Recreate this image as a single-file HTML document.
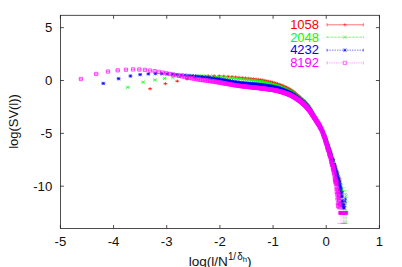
<!DOCTYPE html>
<html><head><meta charset="utf-8"><title>plot</title>
<style>html,body{margin:0;padding:0;background:#fff;overflow:hidden}body{width:402px;height:267px;position:relative;font-family:"Liberation Sans",sans-serif}</style>
</head><body>
<svg width="402" height="267" viewBox="0 0 402 267" style="display:block;position:absolute;left:0;top:0">
<rect width="402" height="267" fill="#fff"/>
<path d="M148.45 88.80H151.75M150.10 87.15V90.45M163.75 83.70H167.05M165.40 82.05V85.35M175.61 81.14H178.91M177.26 79.49V82.79M185.30 78.95H188.60M186.95 77.30V80.60M193.50 77.71H196.80M195.15 76.06V79.36M200.60 76.60H203.90M202.25 74.95V78.25M206.86 76.12H210.16M208.51 74.47V77.77M212.46 75.90H215.76M214.11 74.25V77.55M217.53 75.97H220.83M219.18 74.32V77.62M222.15 76.17H225.45M223.80 74.52V77.82M226.41 76.40H229.71M228.06 74.75V78.05M230.35 76.69H233.65M232.00 75.04V78.34M234.02 77.05H237.32M235.67 75.40V78.70M237.45 77.41H240.75M239.10 75.76V79.06M240.67 77.73H243.97M242.32 76.08V79.38M243.71 78.02H247.01M245.36 76.37V79.67M246.59 78.30H249.89M248.24 76.65V79.95M249.31 78.58H252.61M250.96 76.93V80.23M251.91 78.86H255.21M253.56 77.21V80.51M254.38 79.16H257.68M256.03 77.51V80.81M256.74 79.47H260.04M258.39 77.82V81.12M259.01 79.80H262.31M260.66 78.15V81.45M261.18 80.16H264.48M262.83 78.51V81.81M263.26 80.55H266.56M264.91 78.90V82.20M265.27 80.96H268.57M266.92 79.31V82.61M267.20 81.39H270.50M268.85 79.74V83.04M269.07 81.85H272.37M270.72 80.20V83.50M270.87 82.31H274.17M272.52 80.66V83.96M272.61 82.79H275.91M274.26 81.14V84.44M274.30 83.28H277.60M275.95 81.63V84.93M275.94 83.80H279.24M277.59 82.15V85.45M277.53 84.35H280.83M279.18 82.70V86.00M279.07 84.92H282.37M280.72 83.27V86.57M280.56 85.52H283.86M282.21 83.87V87.17M282.02 86.14H285.32M283.67 84.49V87.79M283.44 86.78H286.74M285.09 85.13V88.43M284.82 87.44H288.12M286.47 85.79V89.09M286.17 88.12H289.47M287.82 86.47V89.77M287.48 88.82H290.78M289.13 87.17V90.47M288.76 89.54H292.06M290.41 87.89V91.19M290.01 90.34H293.31M291.66 88.69V91.99M291.23 91.22H294.53M292.88 89.57V92.87M292.43 92.16H295.73M294.08 90.51V93.81M293.60 93.13H296.90M295.25 91.48V94.78M294.74 94.12H298.04M296.39 92.47V95.77M295.86 95.12H299.16M297.51 93.47V96.77M296.96 96.11H300.26M298.61 94.46V97.76M298.03 97.07H301.33M299.68 95.42V98.72M299.08 98.00H302.38M300.73 96.35V99.65M300.11 98.89H303.41M301.76 97.24V100.54M301.13 99.76H304.43M302.78 98.11V101.41M302.12 100.63H305.42M303.77 98.98V102.28M303.10 101.53H306.40M304.75 99.88V103.18M304.05 102.48H307.35M305.70 100.83V104.13M305.00 103.49H308.30M306.65 101.84V105.14M305.92 104.59H309.22M307.57 102.94V106.24M306.83 105.84H310.13M308.48 104.19V107.49M307.72 107.25H311.02M309.37 105.60V108.90M308.60 108.78H311.90M310.25 107.13V110.43M309.47 110.38H312.77M311.12 108.73V112.03M310.32 112.03H313.62M311.97 110.38V113.68M311.15 113.69H314.45M312.80 112.04V115.34M311.98 115.32H315.28M313.63 113.67V116.97M312.79 116.91H316.09M314.44 115.26V118.56M313.59 118.42H316.89M315.24 116.77V120.07M314.38 119.83H317.68M316.03 118.18V121.48M315.15 121.13H318.45M316.80 119.48V122.78M315.92 122.34H319.22M317.57 120.69V123.99M316.67 123.50H319.97M318.32 121.85V125.15M317.42 124.63H320.72M319.07 122.98V126.28" fill="none" stroke="#ff0000" stroke-width="0.65"/>
<path d="M318.15 125.03H321.45M319.80 123.38V126.68M318.87 126.43H322.17M320.52 124.78V128.08M319.59 128.25H322.89M321.24 126.60V129.90M320.29 129.82H323.59M321.94 128.17V131.47M320.99 130.47H324.29M322.64 128.82V132.12M321.67 132.57H324.97M323.32 130.92V134.22M322.35 135.07H325.65M324.00 133.42V136.72M323.02 136.51H326.32M324.67 134.86V138.16M323.68 137.87H326.98M325.33 136.22V139.52M324.33 139.17H327.63M325.98 137.52V140.82M324.98 141.06H328.28M326.63 139.41V142.71M325.61 144.28H328.91M327.26 142.63V145.93M326.24 145.06H329.54M327.89 143.41V146.71M326.86 147.00H330.16M328.51 145.35V148.65M327.48 148.63H330.78M329.13 146.98V150.28M328.09 150.18H331.39M329.74 148.53V151.83M328.69 152.81H331.99M330.34 151.16V154.46M329.28 155.62H332.58M330.93 153.97V157.27M329.87 157.72H333.17M331.52 156.07V159.37M330.45 158.31H333.75M332.10 156.66V159.96M331.02 160.24H334.32M332.67 158.59V161.89M331.59 160.72H334.89M333.24 159.07V162.37M332.15 164.57H335.45M333.80 162.92V166.22M332.71 166.03H336.01M334.36 164.38V167.68M333.26 166.55H336.56M334.91 164.90V168.20M333.81 167.54H337.11M335.46 165.89V169.19M334.35 170.78H337.65M336.00 169.13V172.43M334.88 171.90H338.18M336.53 170.25V173.55M335.41 172.93H338.71M337.06 171.28V174.58M335.93 174.45H339.23M337.58 172.80V176.10M336.45 178.32H339.75M338.10 176.67V179.97M336.97 179.22H340.27M338.62 177.57V180.87M337.48 184.42H340.78M339.13 182.77V186.07M337.98 181.50H341.28M339.63 179.85V183.15M338.48 180.77H341.78M340.13 179.12V182.42M338.97 188.74H342.27M340.62 187.09V190.39M339.46 191.22H342.76M341.11 189.57V192.87M339.95 191.59H343.25M341.60 189.94V193.24M340.43 196.02H343.73M342.08 194.37V197.67M340.91 196.31H344.21M342.56 194.66V197.96M341.38 191.46H344.68M343.03 189.81V193.11M342.10 212.90H344.90M343.50 211.50V214.30M342.31 208.11H345.61M343.96 206.46V209.76M342.77 206.85H346.07M344.42 205.20V208.50M343.48 212.90H346.28M344.88 211.50V214.30" fill="none" stroke="#ff0000" stroke-width="0.5" stroke-opacity="0.8"/>
<path d="M150.10 88.45V89.15M148.10 88.45H152.10M148.10 89.15H152.10M165.40 83.35V84.05M163.40 83.35H167.40M163.40 84.05H167.40M177.26 80.79V81.49M175.26 80.79H179.26M175.26 81.49H179.26M186.95 78.60V79.30M184.95 78.60H188.95M184.95 79.30H188.95M195.15 77.36V78.06M193.15 77.36H197.15M193.15 78.06H197.15M202.25 76.25V76.95M200.25 76.25H204.25M200.25 76.95H204.25M208.51 75.77V76.47M206.51 75.77H210.51M206.51 76.47H210.51M214.11 75.55V76.25M212.11 75.55H216.11M212.11 76.25H216.11M219.18 75.62V76.32M217.18 75.62H221.18M217.18 76.32H221.18M223.80 75.82V76.52M221.80 75.82H225.80M221.80 76.52H225.80M228.06 76.05V76.75M226.06 76.05H230.06M226.06 76.75H230.06M232.00 76.34V77.04M230.00 76.34H234.00M230.00 77.04H234.00M235.67 76.70V77.40M233.67 76.70H237.67M233.67 77.40H237.67M239.10 77.06V77.76M237.10 77.06H241.10M237.10 77.76H241.10M242.32 77.38V78.08M240.32 77.38H244.32M240.32 78.08H244.32M245.36 77.67V78.37M243.36 77.67H247.36M243.36 78.37H247.36M248.24 77.95V78.65M246.24 77.95H250.24M246.24 78.65H250.24M250.96 78.23V78.93M248.96 78.23H252.96M248.96 78.93H252.96M253.56 78.51V79.21M251.56 78.51H255.56M251.56 79.21H255.56M256.03 78.81V79.51M254.03 78.81H258.03M254.03 79.51H258.03M258.39 79.12V79.82M256.39 79.12H260.39M256.39 79.82H260.39M260.66 79.45V80.15M258.66 79.45H262.66M258.66 80.15H262.66M262.83 79.81V80.51M260.83 79.81H264.83M260.83 80.51H264.83M264.91 80.20V80.90M262.91 80.20H266.91M262.91 80.90H266.91M266.92 80.61V81.31M264.92 80.61H268.92M264.92 81.31H268.92M268.85 81.04V81.74M266.85 81.04H270.85M266.85 81.74H270.85M270.72 81.50V82.20M268.72 81.50H272.72M268.72 82.20H272.72M272.52 81.96V82.66M270.52 81.96H274.52M270.52 82.66H274.52M274.26 82.44V83.14M272.26 82.44H276.26M272.26 83.14H276.26M275.95 82.93V83.63M273.95 82.93H277.95M273.95 83.63H277.95M277.59 83.45V84.15M275.59 83.45H279.59M275.59 84.15H279.59M279.18 84.00V84.70M277.18 84.00H281.18M277.18 84.70H281.18M280.72 84.57V85.27M278.72 84.57H282.72M278.72 85.27H282.72M282.21 85.17V85.87M280.21 85.17H284.21M280.21 85.87H284.21M283.67 85.79V86.49M281.67 85.79H285.67M281.67 86.49H285.67M285.09 86.43V87.13M283.09 86.43H287.09M283.09 87.13H287.09M286.47 87.09V87.79M284.47 87.09H288.47M284.47 87.79H288.47M287.82 87.77V88.47M285.82 87.77H289.82M285.82 88.47H289.82M289.13 88.47V89.17M287.13 88.47H291.13M287.13 89.17H291.13M290.41 89.19V89.89M288.41 89.19H292.41M288.41 89.89H292.41M291.66 89.99V90.69M289.66 89.99H293.66M289.66 90.69H293.66M292.88 90.87V91.57M290.88 90.87H294.88M290.88 91.57H294.88M294.08 91.81V92.51M292.08 91.81H296.08M292.08 92.51H296.08M295.25 92.78V93.48M293.25 92.78H297.25M293.25 93.48H297.25M296.39 93.77V94.47M294.39 93.77H298.39M294.39 94.47H298.39M297.51 94.77V95.47M295.51 94.77H299.51M295.51 95.47H299.51M298.61 95.76V96.46M296.61 95.76H300.61M296.61 96.46H300.61M299.68 96.72V97.42M297.68 96.72H301.68M297.68 97.42H301.68M300.73 97.65V98.35M298.73 97.65H302.73M298.73 98.35H302.73M301.76 98.54V99.24M299.76 98.54H303.76M299.76 99.24H303.76M302.78 99.41V100.11M300.78 99.41H304.78M300.78 100.11H304.78M303.77 100.28V100.98M301.77 100.28H305.77M301.77 100.98H305.77M304.75 101.18V101.88M302.75 101.18H306.75M302.75 101.88H306.75M305.70 102.13V102.83M303.70 102.13H307.70M303.70 102.83H307.70M306.65 103.14V103.84M304.65 103.14H308.65M304.65 103.84H308.65M307.57 104.24V104.94M305.57 104.24H309.57M305.57 104.94H309.57M308.48 105.49V106.19M306.48 105.49H310.48M306.48 106.19H310.48M309.37 106.90V107.60M307.37 106.90H311.37M307.37 107.60H311.37M310.25 108.43V109.13M308.25 108.43H312.25M308.25 109.13H312.25M311.12 110.03V110.73M309.12 110.03H313.12M309.12 110.73H313.12M311.97 111.68V112.38M309.97 111.68H313.97M309.97 112.38H313.97M312.80 113.34V114.04M310.80 113.34H314.80M310.80 114.04H314.80M313.63 114.97V115.67M311.63 114.97H315.63M311.63 115.67H315.63M314.44 116.56V117.26M312.44 116.56H316.44M312.44 117.26H316.44M315.24 118.07V118.77M313.24 118.07H317.24M313.24 118.77H317.24M316.03 119.48V120.18M314.03 119.48H318.03M314.03 120.18H318.03M316.80 120.78V121.48M314.80 120.78H318.80M314.80 121.48H318.80M317.57 121.99V122.69M315.57 121.99H319.57M315.57 122.69H319.57M318.32 123.15V123.85M316.32 123.15H320.32M316.32 123.85H320.32M319.07 124.28V124.98M317.07 124.28H321.07M317.07 124.98H321.07" fill="none" stroke="#ff0000" stroke-width="0.4" stroke-opacity="0.8"/>
<path d="M324.00 134.81V135.33M321.80 134.81H326.20M321.80 135.33H326.20M324.67 136.23V136.79M322.47 136.23H326.87M322.47 136.79H326.87M325.33 137.55V138.18M323.13 137.55H327.53M323.13 138.18H327.53M325.98 138.85V139.50M323.78 138.85H328.18M323.78 139.50H328.18M326.63 140.71V141.41M324.43 140.71H328.83M324.43 141.41H328.83M327.26 143.88V144.68M325.06 143.88H329.46M325.06 144.68H329.46M327.89 144.62V145.50M325.69 144.62H330.09M325.69 145.50H330.09M328.51 146.53V147.48M326.31 146.53H330.71M326.31 147.48H330.71M329.13 148.10V149.15M326.93 148.10H331.33M326.93 149.15H331.33M329.74 149.63V150.74M327.54 149.63H331.94M327.54 150.74H331.94M330.34 152.19V153.42M328.14 152.19H332.54M328.14 153.42H332.54M330.93 154.93V156.31M328.73 154.93H333.13M328.73 156.31H333.13M331.52 156.95V158.48M329.32 156.95H333.72M329.32 158.48H333.72M332.10 157.51V159.11M329.90 157.51H334.30M329.90 159.11H334.30M332.67 159.39V161.08M330.47 159.39H334.87M330.47 161.08H334.87M333.24 159.79V161.64M331.04 159.79H335.44M331.04 161.64H335.44M333.80 163.49V165.66M331.60 163.49H336.00M331.60 165.66H336.00M334.36 164.86V167.19M332.16 164.86H336.56M332.16 167.19H336.56M334.91 165.41V167.69M332.71 165.41H337.11M332.71 167.69H337.11M335.46 166.29V168.80M333.26 166.29H337.66M333.26 168.80H337.66M336.00 169.33V172.23M333.80 169.33H338.20M333.80 172.23H338.20M336.53 170.45V173.35M334.33 170.45H338.73M334.33 173.35H338.73M337.06 171.32V174.55M334.86 171.32H339.26M334.86 174.55H339.26M337.58 172.76V176.15M335.38 172.76H339.78M335.38 176.15H339.78M338.10 176.36V180.29M335.90 176.36H340.30M335.90 180.29H340.30M338.62 177.11V181.34M336.42 177.11H340.82M336.42 181.34H340.82M339.63 179.19V183.80M337.43 179.19H341.83M337.43 183.80H341.83M340.13 178.28V183.26M337.93 178.28H342.33M337.93 183.26H342.33" fill="none" stroke="#ff0000" stroke-width="0.35" stroke-opacity="0.75"/>
<path d="M126.15 85.65L129.45 88.95M126.15 88.95L129.45 85.65M141.45 80.55L144.75 83.85M141.45 83.85L144.75 80.55M153.31 78.26L156.61 81.56M153.31 81.56L156.61 78.26M163.00 76.76L166.30 80.06M163.00 80.06L166.30 76.76M171.20 75.76L174.50 79.06M171.20 79.06L174.50 75.76M178.30 74.85L181.60 78.15M178.30 78.15L181.60 74.85M184.56 74.36L187.86 77.66M184.56 77.66L187.86 74.36M190.16 74.15L193.46 77.45M190.16 77.45L193.46 74.15M195.23 74.17L198.53 77.47M195.23 77.47L198.53 74.17M199.85 74.21L203.15 77.51M199.85 77.51L203.15 74.21M204.11 74.26L207.41 77.56M204.11 77.56L207.41 74.26M208.05 74.45L211.35 77.75M208.05 77.75L211.35 74.45M211.72 74.75L215.02 78.05M211.72 78.05L215.02 74.75M215.15 75.07L218.45 78.37M215.15 78.37L218.45 75.07M218.37 75.35L221.67 78.65M218.37 78.65L221.67 75.35M221.41 75.61L224.71 78.91M221.41 78.91L224.71 75.61M224.29 75.87L227.59 79.17M224.29 79.17L227.59 75.87M227.01 76.12L230.31 79.42M227.01 79.42L230.31 76.12M229.61 76.37L232.91 79.67M229.61 79.67L232.91 76.37M232.08 76.61L235.38 79.91M232.08 79.91L235.38 76.61M234.44 76.85L237.74 80.15M234.44 80.15L237.74 76.85M236.71 77.08L240.01 80.38M236.71 80.38L240.01 77.08M238.88 77.30L242.18 80.60M238.88 80.60L242.18 77.30M240.96 77.52L244.26 80.82M240.96 80.82L244.26 77.52M242.97 77.72L246.27 81.02M242.97 81.02L246.27 77.72M244.90 77.91L248.20 81.21M244.90 81.21L248.20 77.91M246.77 78.10L250.07 81.40M246.77 81.40L250.07 78.10M248.57 78.29L251.87 81.59M248.57 81.59L251.87 78.29M250.31 78.48L253.61 81.78M250.31 81.78L253.61 78.48M252.00 78.68L255.30 81.98M252.00 81.98L255.30 78.68M253.64 78.88L256.94 82.18M253.64 82.18L256.94 78.88M255.23 79.09L258.53 82.39M255.23 82.39L258.53 79.09M256.77 79.31L260.07 82.61M256.77 82.61L260.07 79.31M258.26 79.54L261.56 82.84M258.26 82.84L261.56 79.54M259.72 79.78L263.02 83.08M259.72 83.08L263.02 79.78M261.14 80.04L264.44 83.34M261.14 83.34L264.44 80.04M262.52 80.32L265.82 83.62M262.52 83.62L265.82 80.32M263.87 80.61L267.17 83.91M263.87 83.91L267.17 80.61M265.18 80.92L268.48 84.22M265.18 84.22L268.48 80.92M266.46 81.23L269.76 84.53M266.46 84.53L269.76 81.23M267.71 81.55L271.01 84.85M267.71 84.85L271.01 81.55M268.93 81.87L272.23 85.17M268.93 85.17L272.23 81.87M270.13 82.21L273.43 85.51M270.13 85.51L273.43 82.21M271.30 82.54L274.60 85.84M271.30 85.84L274.60 82.54M272.44 82.88L275.74 86.18M272.44 86.18L275.74 82.88M273.56 83.21L276.86 86.51M273.56 86.51L276.86 83.21M274.66 83.56L277.96 86.86M274.66 86.86L277.96 83.56M275.73 83.91L279.03 87.21M275.73 87.21L279.03 83.91M276.78 84.26L280.08 87.56M276.78 87.56L280.08 84.26M277.81 84.63L281.11 87.93M277.81 87.93L281.11 84.63M278.83 85.00L282.13 88.30M278.83 88.30L282.13 85.00M279.82 85.38L283.12 88.68M279.82 88.68L283.12 85.38M280.80 85.77L284.10 89.07M280.80 89.07L284.10 85.77M281.75 86.17L285.05 89.47M281.75 89.47L285.05 86.17M282.70 86.57L286.00 89.87M282.70 89.87L286.00 86.57M283.62 86.99L286.92 90.29M283.62 90.29L286.92 86.99M284.53 87.41L287.83 90.71M284.53 90.71L287.83 87.41M285.42 87.84L288.72 91.14M285.42 91.14L288.72 87.84M286.30 88.27L289.60 91.57M286.30 91.57L289.60 88.27M287.17 88.72L290.47 92.02M287.17 92.02L290.47 88.72M288.02 89.17L291.32 92.47M288.02 92.47L291.32 89.17M288.85 89.63L292.15 92.93M288.85 92.93L292.15 89.63M289.68 90.14L292.98 93.44M289.68 93.44L292.98 90.14M290.49 90.67L293.79 93.97M290.49 93.97L293.79 90.67M291.29 91.23L294.59 94.53M291.29 94.53L294.59 91.23M292.08 91.81L295.38 95.11M292.08 95.11L295.38 91.81M292.85 92.40L296.15 95.70M292.85 95.70L296.15 92.40M293.62 93.01L296.92 96.31M293.62 96.31L296.92 93.01M294.37 93.62L297.67 96.92M294.37 96.92L297.67 93.62M295.12 94.24L298.42 97.54M295.12 97.54L298.42 94.24M295.85 94.86L299.15 98.16M295.85 98.16L299.15 94.86M296.57 95.48L299.87 98.78M296.57 98.78L299.87 95.48M297.29 96.10L300.59 99.40M297.29 99.40L300.59 96.10M297.99 96.70L301.29 100.00M297.99 100.00L301.29 96.70M298.69 97.30L301.99 100.60M298.69 100.60L301.99 97.30M299.37 97.88L302.67 101.18M299.37 101.18L302.67 97.88M300.05 98.45L303.35 101.75M300.05 101.75L303.35 98.45M300.72 99.02L304.02 102.32M300.72 102.32L304.02 99.02M301.38 99.58L304.68 102.88M301.38 102.88L304.68 99.58M302.03 100.16L305.33 103.46M302.03 103.46L305.33 100.16M302.68 100.75L305.98 104.05M302.68 104.05L305.98 100.75M303.31 101.35L306.61 104.65M303.31 104.65L306.61 101.35M303.94 101.97L307.24 105.27M303.94 105.27L307.24 101.97M304.56 102.62L307.86 105.92M304.56 105.92L307.86 102.62M305.18 103.30L308.48 106.60M305.18 106.60L308.48 103.30M305.79 104.01L309.09 107.31M305.79 107.31L309.09 104.01M306.39 104.78L309.69 108.08M306.39 108.08L309.69 104.78M306.98 105.60L310.28 108.90M306.98 108.90L310.28 105.60M307.57 106.47L310.87 109.77M307.57 109.77L310.87 106.47M308.15 107.38L311.45 110.68M308.15 110.68L311.45 107.38M308.72 108.32L312.02 111.62M308.72 111.62L312.02 108.32M309.29 109.29L312.59 112.59M309.29 112.59L312.59 109.29M309.85 110.26L313.15 113.56M309.85 113.56L313.15 110.26M310.41 111.25L313.71 114.55M310.41 114.55L313.71 111.25M310.96 112.24L314.26 115.54M310.96 115.54L314.26 112.24M311.51 113.22L314.81 116.52M311.51 116.52L314.81 113.22M312.05 114.20L315.35 117.50M312.05 117.50L315.35 114.20M312.58 115.16L315.88 118.46M312.58 118.46L315.88 115.16M313.11 116.10L316.41 119.40M313.11 119.40L316.41 116.10M313.63 117.02L316.93 120.32M313.63 120.32L316.93 117.02M314.15 117.90L317.45 121.20M314.15 121.20L317.45 117.90M314.67 118.76L317.97 122.06M314.67 122.06L317.97 118.76M315.18 119.57L318.48 122.87M315.18 122.87L318.48 119.57M315.68 120.36L318.98 123.66M315.68 123.66L318.98 120.36M316.18 121.13L319.48 124.43M316.18 124.43L319.48 121.13M316.67 121.89L319.97 125.19M316.67 125.19L319.97 121.89M317.16 122.65L320.46 125.95M317.16 125.95L320.46 122.65" fill="none" stroke="#00ff00" stroke-width="0.65"/>
<path d="M317.65 123.52L320.95 126.82M317.65 126.82L320.95 123.52M318.13 123.95L321.43 127.25M318.13 127.25L321.43 123.95M318.61 124.83L321.91 128.13M318.61 128.13L321.91 124.83M319.08 125.97L322.38 129.27M319.08 129.27L322.38 125.97M319.55 126.40L322.85 129.70M319.55 129.70L322.85 126.40M320.01 127.34L323.31 130.64M320.01 130.64L323.31 127.34M320.47 128.23L323.77 131.53M320.47 131.53L323.77 128.23M320.93 129.26L324.23 132.56M320.93 132.56L324.23 129.26M321.38 130.37L324.68 133.67M321.38 133.67L324.68 130.37M321.83 131.72L325.13 135.02M321.83 135.02L325.13 131.72M322.28 132.97L325.58 136.27M322.28 136.27L325.58 132.97M322.72 133.73L326.02 137.03M322.72 137.03L326.02 133.73M323.15 134.28L326.45 137.58M323.15 137.58L326.45 134.28M323.59 136.06L326.89 139.36M323.59 139.36L326.89 136.06M324.02 137.39L327.32 140.69M324.02 140.69L327.32 137.39M324.45 139.23L327.75 142.53M324.45 142.53L327.75 139.23M324.87 139.81L328.17 143.11M324.87 143.11L328.17 139.81M325.29 140.12L328.59 143.42M325.29 143.42L328.59 140.12M325.71 143.71L329.01 147.01M325.71 147.01L329.01 143.71M326.12 143.20L329.42 146.50M326.12 146.50L329.42 143.20M326.53 145.16L329.83 148.46M326.53 148.46L329.83 145.16M326.94 146.13L330.24 149.43M326.94 149.43L330.24 146.13M327.34 148.49L330.64 151.79M327.34 151.79L330.64 148.49M327.74 147.53L331.04 150.83M327.74 150.83L331.04 147.53M328.14 149.54L331.44 152.84M328.14 152.84L331.44 149.54M328.54 151.21L331.84 154.51M328.54 154.51L331.84 151.21M328.93 153.43L332.23 156.73M328.93 156.73L332.23 153.43M329.32 153.80L332.62 157.10M329.32 157.10L332.62 153.80M329.71 153.74L333.01 157.04M329.71 157.04L333.01 153.74M330.09 156.46L333.39 159.76M330.09 159.76L333.39 156.46M330.47 158.62L333.77 161.92M330.47 161.92L333.77 158.62M330.85 160.03L334.15 163.33M330.85 163.33L334.15 160.03M331.23 158.29L334.53 161.59M331.23 161.59L334.53 158.29M331.60 158.98L334.90 162.28M331.60 162.28L334.90 158.98M331.97 162.66L335.27 165.96M331.97 165.96L335.27 162.66M332.34 163.77L335.64 167.07M332.34 167.07L335.64 163.77M332.70 164.17L336.00 167.47M332.70 167.47L336.00 164.17M333.07 166.00L336.37 169.30M333.07 169.30L336.37 166.00M333.43 166.86L336.73 170.16M333.43 170.16L336.73 166.86M333.78 169.06L337.08 172.36M333.78 172.36L337.08 169.06M334.14 168.92L337.44 172.22M334.14 172.22L337.44 168.92M334.49 170.46L337.79 173.76M334.49 173.76L337.79 170.46M334.84 171.98L338.14 175.28M334.84 175.28L338.14 171.98M335.19 173.14L338.49 176.44M335.19 176.44L338.49 173.14M335.54 172.00L338.84 175.30M335.54 175.30L338.84 172.00M335.88 172.51L339.18 175.81M335.88 175.81L339.18 172.51M336.22 176.60L339.52 179.90M336.22 179.90L339.52 176.60M336.56 175.31L339.86 178.61M336.56 178.61L339.86 175.31M336.90 178.43L340.20 181.73M336.90 181.73L340.20 178.43M337.24 179.71L340.54 183.01M337.24 183.01L340.54 179.71M337.57 181.38L340.87 184.68M337.57 184.68L340.87 181.38M337.90 183.15L341.20 186.45M337.90 186.45L341.20 183.15M338.23 196.04L341.53 199.34M338.23 199.34L341.53 196.04M338.56 185.84L341.86 189.14M338.56 189.14L341.86 185.84M338.88 184.39L342.18 187.69M338.88 187.69L342.18 184.39M339.21 187.73L342.51 191.03M339.21 191.03L342.51 187.73M339.53 203.20L342.83 206.50M339.53 206.50L342.83 203.20M339.85 189.57L343.15 192.87M339.85 192.87L343.15 189.57M340.16 186.93L343.46 190.23M340.16 190.23L343.46 186.93M340.48 190.60L343.78 193.90M340.48 193.90L343.78 190.60M340.79 190.34L344.09 193.64M340.79 193.64L344.09 190.34M341.11 201.84L344.41 205.14M341.11 205.14L344.41 201.84M341.42 201.10L344.72 204.40M341.42 204.40L344.72 201.10M341.97 211.20L344.77 214.00M341.97 214.00L344.77 211.20M342.28 211.20L345.08 214.00M342.28 214.00L345.08 211.20M343.49 211.20L346.29 214.00M343.49 214.00L346.29 211.20M344.08 211.20L346.88 214.00M344.08 214.00L346.88 211.20M344.42 194.15L347.72 197.45M344.42 197.45L347.72 194.15M344.96 211.20L347.76 214.00M344.96 214.00L347.76 211.20M345.25 211.20L348.05 214.00M345.25 214.00L348.05 211.20M345.54 211.20L348.34 214.00M345.54 214.00L348.34 211.20" fill="none" stroke="#00ff00" stroke-width="0.5" stroke-opacity="0.8"/>
<path d="M127.80 86.95V87.65M125.80 86.95H129.80M125.80 87.65H129.80M143.10 81.85V82.55M141.10 81.85H145.10M141.10 82.55H145.10M154.96 79.56V80.26M152.96 79.56H156.96M152.96 80.26H156.96M164.65 78.06V78.76M162.65 78.06H166.65M162.65 78.76H166.65M172.85 77.06V77.76M170.85 77.06H174.85M170.85 77.76H174.85M179.95 76.15V76.85M177.95 76.15H181.95M177.95 76.85H181.95M186.21 75.66V76.36M184.21 75.66H188.21M184.21 76.36H188.21M191.81 75.45V76.15M189.81 75.45H193.81M189.81 76.15H193.81M196.88 75.47V76.17M194.88 75.47H198.88M194.88 76.17H198.88M201.50 75.51V76.21M199.50 75.51H203.50M199.50 76.21H203.50M205.76 75.56V76.26M203.76 75.56H207.76M203.76 76.26H207.76M209.70 75.75V76.45M207.70 75.75H211.70M207.70 76.45H211.70M213.37 76.05V76.75M211.37 76.05H215.37M211.37 76.75H215.37M216.80 76.37V77.07M214.80 76.37H218.80M214.80 77.07H218.80M220.02 76.65V77.35M218.02 76.65H222.02M218.02 77.35H222.02M223.06 76.91V77.61M221.06 76.91H225.06M221.06 77.61H225.06M225.94 77.17V77.87M223.94 77.17H227.94M223.94 77.87H227.94M228.66 77.42V78.12M226.66 77.42H230.66M226.66 78.12H230.66M231.26 77.67V78.37M229.26 77.67H233.26M229.26 78.37H233.26M233.73 77.91V78.61M231.73 77.91H235.73M231.73 78.61H235.73M236.09 78.15V78.85M234.09 78.15H238.09M234.09 78.85H238.09M238.36 78.38V79.08M236.36 78.38H240.36M236.36 79.08H240.36M240.53 78.60V79.30M238.53 78.60H242.53M238.53 79.30H242.53M242.61 78.82V79.52M240.61 78.82H244.61M240.61 79.52H244.61M244.62 79.02V79.72M242.62 79.02H246.62M242.62 79.72H246.62M246.55 79.21V79.91M244.55 79.21H248.55M244.55 79.91H248.55M248.42 79.40V80.10M246.42 79.40H250.42M246.42 80.10H250.42M250.22 79.59V80.29M248.22 79.59H252.22M248.22 80.29H252.22M251.96 79.78V80.48M249.96 79.78H253.96M249.96 80.48H253.96M253.65 79.98V80.68M251.65 79.98H255.65M251.65 80.68H255.65M255.29 80.18V80.88M253.29 80.18H257.29M253.29 80.88H257.29M256.88 80.39V81.09M254.88 80.39H258.88M254.88 81.09H258.88M258.42 80.61V81.31M256.42 80.61H260.42M256.42 81.31H260.42M259.91 80.84V81.54M257.91 80.84H261.91M257.91 81.54H261.91M261.37 81.08V81.78M259.37 81.08H263.37M259.37 81.78H263.37M262.79 81.34V82.04M260.79 81.34H264.79M260.79 82.04H264.79M264.17 81.62V82.32M262.17 81.62H266.17M262.17 82.32H266.17M265.52 81.91V82.61M263.52 81.91H267.52M263.52 82.61H267.52M266.83 82.22V82.92M264.83 82.22H268.83M264.83 82.92H268.83M268.11 82.53V83.23M266.11 82.53H270.11M266.11 83.23H270.11M269.36 82.85V83.55M267.36 82.85H271.36M267.36 83.55H271.36M270.58 83.17V83.87M268.58 83.17H272.58M268.58 83.87H272.58M271.78 83.51V84.21M269.78 83.51H273.78M269.78 84.21H273.78M272.95 83.84V84.54M270.95 83.84H274.95M270.95 84.54H274.95M274.09 84.18V84.88M272.09 84.18H276.09M272.09 84.88H276.09M275.21 84.51V85.21M273.21 84.51H277.21M273.21 85.21H277.21M276.31 84.86V85.56M274.31 84.86H278.31M274.31 85.56H278.31M277.38 85.21V85.91M275.38 85.21H279.38M275.38 85.91H279.38M278.43 85.56V86.26M276.43 85.56H280.43M276.43 86.26H280.43M279.46 85.93V86.63M277.46 85.93H281.46M277.46 86.63H281.46M280.48 86.30V87.00M278.48 86.30H282.48M278.48 87.00H282.48M281.47 86.68V87.38M279.47 86.68H283.47M279.47 87.38H283.47M282.45 87.07V87.77M280.45 87.07H284.45M280.45 87.77H284.45M283.40 87.47V88.17M281.40 87.47H285.40M281.40 88.17H285.40M284.35 87.87V88.57M282.35 87.87H286.35M282.35 88.57H286.35M285.27 88.29V88.99M283.27 88.29H287.27M283.27 88.99H287.27M286.18 88.71V89.41M284.18 88.71H288.18M284.18 89.41H288.18M287.07 89.14V89.84M285.07 89.14H289.07M285.07 89.84H289.07M287.95 89.57V90.27M285.95 89.57H289.95M285.95 90.27H289.95M288.82 90.02V90.72M286.82 90.02H290.82M286.82 90.72H290.82M289.67 90.47V91.17M287.67 90.47H291.67M287.67 91.17H291.67M290.50 90.93V91.63M288.50 90.93H292.50M288.50 91.63H292.50M291.33 91.44V92.14M289.33 91.44H293.33M289.33 92.14H293.33M292.14 91.97V92.67M290.14 91.97H294.14M290.14 92.67H294.14M292.94 92.53V93.23M290.94 92.53H294.94M290.94 93.23H294.94M293.73 93.11V93.81M291.73 93.11H295.73M291.73 93.81H295.73M294.50 93.70V94.40M292.50 93.70H296.50M292.50 94.40H296.50M295.27 94.31V95.01M293.27 94.31H297.27M293.27 95.01H297.27M296.02 94.92V95.62M294.02 94.92H298.02M294.02 95.62H298.02M296.77 95.54V96.24M294.77 95.54H298.77M294.77 96.24H298.77M297.50 96.16V96.86M295.50 96.16H299.50M295.50 96.86H299.50M298.22 96.78V97.48M296.22 96.78H300.22M296.22 97.48H300.22M298.94 97.40V98.10M296.94 97.40H300.94M296.94 98.10H300.94M299.64 98.00V98.70M297.64 98.00H301.64M297.64 98.70H301.64M300.34 98.60V99.30M298.34 98.60H302.34M298.34 99.30H302.34M301.02 99.18V99.88M299.02 99.18H303.02M299.02 99.88H303.02M301.70 99.75V100.45M299.70 99.75H303.70M299.70 100.45H303.70M302.37 100.32V101.02M300.37 100.32H304.37M300.37 101.02H304.37M303.03 100.88V101.58M301.03 100.88H305.03M301.03 101.58H305.03M303.68 101.46V102.16M301.68 101.46H305.68M301.68 102.16H305.68M304.33 102.05V102.75M302.33 102.05H306.33M302.33 102.75H306.33M304.96 102.65V103.35M302.96 102.65H306.96M302.96 103.35H306.96M305.59 103.27V103.97M303.59 103.27H307.59M303.59 103.97H307.59M306.21 103.92V104.62M304.21 103.92H308.21M304.21 104.62H308.21M306.83 104.60V105.30M304.83 104.60H308.83M304.83 105.30H308.83M307.44 105.31V106.01M305.44 105.31H309.44M305.44 106.01H309.44M308.04 106.08V106.78M306.04 106.08H310.04M306.04 106.78H310.04M308.63 106.90V107.60M306.63 106.90H310.63M306.63 107.60H310.63M309.22 107.77V108.47M307.22 107.77H311.22M307.22 108.47H311.22M309.80 108.68V109.38M307.80 108.68H311.80M307.80 109.38H311.80M310.37 109.62V110.32M308.37 109.62H312.37M308.37 110.32H312.37M310.94 110.59V111.29M308.94 110.59H312.94M308.94 111.29H312.94M311.50 111.56V112.26M309.50 111.56H313.50M309.50 112.26H313.50M312.06 112.55V113.25M310.06 112.55H314.06M310.06 113.25H314.06M312.61 113.54V114.24M310.61 113.54H314.61M310.61 114.24H314.61M313.16 114.52V115.22M311.16 114.52H315.16M311.16 115.22H315.16M313.70 115.50V116.20M311.70 115.50H315.70M311.70 116.20H315.70M314.23 116.46V117.16M312.23 116.46H316.23M312.23 117.16H316.23M314.76 117.40V118.10M312.76 117.40H316.76M312.76 118.10H316.76M315.28 118.32V119.02M313.28 118.32H317.28M313.28 119.02H317.28M315.80 119.20V119.90M313.80 119.20H317.80M313.80 119.90H317.80M316.32 120.06V120.76M314.32 120.06H318.32M314.32 120.76H318.32M316.83 120.87V121.57M314.83 120.87H318.83M314.83 121.57H318.83M317.33 121.66V122.36M315.33 121.66H319.33M315.33 122.36H319.33M317.83 122.43V123.13M315.83 122.43H319.83M315.83 123.13H319.83M318.32 123.19V123.89M316.32 123.19H320.32M316.32 123.89H320.32M318.81 123.95V124.65M316.81 123.95H320.81M316.81 124.65H320.81" fill="none" stroke="#00ff00" stroke-width="0.4" stroke-opacity="0.8"/>
<path d="M323.48 133.11V133.62M321.28 133.11H325.68M321.28 133.62H325.68M323.93 134.36V134.88M321.73 134.36H326.13M321.73 134.88H326.13M324.37 135.10V135.65M322.17 135.10H326.57M322.17 135.65H326.57M324.80 135.64V136.22M322.60 135.64H327.00M322.60 136.22H327.00M325.24 137.40V138.02M323.04 137.40H327.44M323.04 138.02H327.44M325.67 138.71V139.37M323.47 138.71H327.87M323.47 139.37H327.87M326.10 140.54V141.23M323.90 140.54H328.30M323.90 141.23H328.30M326.52 141.09V141.83M324.32 141.09H328.72M324.32 141.83H328.72M326.94 141.39V142.15M324.74 141.39H329.14M324.74 142.15H329.14M327.36 144.94V145.79M325.16 144.94H329.56M325.16 145.79H329.56M327.77 144.41V145.29M325.57 144.41H329.97M325.57 145.29H329.97M328.18 146.33V147.28M325.98 146.33H330.38M325.98 147.28H330.38M328.59 147.29V148.28M326.39 147.29H330.79M326.39 148.28H330.79M328.99 149.60V150.67M326.79 149.60H331.19M326.79 150.67H331.19M329.39 148.63V149.73M327.19 148.63H331.59M327.19 149.73H331.59M329.79 150.61V151.76M327.59 150.61H331.99M327.59 151.76H331.99M330.19 152.23V153.49M327.99 152.23H332.39M327.99 153.49H332.39M330.58 154.41V155.75M328.38 154.41H332.78M328.38 155.75H332.78M330.97 154.71V156.18M328.77 154.71H333.17M328.77 156.18H333.17M331.36 154.67V156.12M329.16 154.67H333.56M329.16 156.12H333.56M331.74 157.32V158.90M329.54 157.32H333.94M329.54 158.90H333.94M332.12 159.40V161.14M329.92 159.40H334.32M329.92 161.14H334.32M332.50 160.75V162.61M330.30 160.75H334.70M330.30 162.61H334.70M332.88 159.05V160.84M330.68 159.05H335.08M330.68 160.84H335.08M333.25 159.72V161.55M331.05 159.72H335.45M331.05 161.55H335.45M333.62 163.23V165.40M331.42 163.23H335.82M331.42 165.40H335.82M333.99 164.32V166.53M331.79 164.32H336.19M331.79 166.53H336.19M334.35 164.67V166.96M332.15 164.67H336.55M332.15 166.96H336.55M334.72 166.41V168.88M332.52 166.41H336.92M332.52 168.88H336.92M335.08 167.15V169.88M332.88 167.15H337.28M332.88 169.88H337.28M335.43 169.27V172.15M333.23 169.27H337.63M333.23 172.15H337.63M335.79 169.06V172.08M333.59 169.06H337.99M333.59 172.08H337.99M336.14 170.52V173.71M333.94 170.52H338.34M333.94 173.71H338.34M336.49 172.02V175.24M334.29 172.02H338.69M334.29 175.24H338.69M336.84 172.95V176.63M334.64 172.95H339.04M334.64 176.63H339.04M337.19 172.02V175.28M334.99 172.02H339.39M334.99 175.28H339.39M337.53 172.35V175.98M335.33 172.35H339.73M335.33 175.98H339.73M337.87 176.05V180.46M335.67 176.05H340.07M335.67 180.46H340.07M338.21 174.89V179.04M336.01 174.89H340.41M336.01 179.04H340.41M338.55 177.93V182.24M336.35 177.93H340.75M336.35 182.24H340.75M338.89 178.87V183.85M336.69 178.87H341.09M336.69 183.85H341.09M339.22 180.39V185.67M337.02 180.39H341.42M337.02 185.67H341.42M339.55 181.98V187.63M337.35 181.98H341.75M337.35 187.63H341.75M339.88 192.40V202.97M337.68 192.40H342.08M337.68 202.97H342.08M340.21 184.44V190.54M338.01 184.44H342.41M338.01 190.54H342.41M340.53 182.70V189.38M338.33 182.70H342.73M338.33 189.38H342.73M340.86 185.86V192.90M338.66 185.86H343.06M338.66 192.90H343.06M341.50 187.70V194.75M339.30 187.70H343.70M339.30 194.75H343.70M341.81 184.84V192.31M339.61 184.84H344.01M339.61 192.31H344.01M342.13 187.93V196.57M339.93 187.93H344.33M339.93 196.57H344.33M342.44 187.67V196.30M340.24 187.67H344.64M340.24 196.30H344.64M346.07 190.52V201.09M343.87 190.52H348.27M343.87 201.09H348.27" fill="none" stroke="#00ff00" stroke-width="0.35" stroke-opacity="0.75" stroke-dasharray="2.6 1.0"/>
<path d="M341.18 197.37V212.32M338.98 197.37H343.38M338.98 212.32H343.38M342.76 197.38V209.59M340.56 197.38H344.96M340.56 209.59H344.96M343.07 196.65V208.85M340.87 196.65H345.27M340.87 208.85H345.27M343.37 202.03V223.17M341.17 202.03H345.57M341.17 223.17H345.57M343.68 202.03V223.17M341.48 202.03H345.88M341.48 223.17H345.88M344.89 202.03V223.17M342.69 202.03H347.09M342.69 223.17H347.09M345.48 202.03V223.17M343.28 202.03H347.68M343.28 223.17H347.68M346.36 202.03V223.17M344.16 202.03H348.56M344.16 223.17H348.56M346.65 202.03V223.17M344.45 202.03H348.85M344.45 223.17H348.85M346.94 202.03V223.17M344.74 202.03H349.14M344.74 223.17H349.14" fill="none" stroke="#00ff00" stroke-width="0.3" stroke-opacity="0.5" stroke-dasharray="2.6 1.0"/>
<path d="M101.65 83.40H104.95M103.30 81.75V85.05M101.65 81.75L104.95 85.05M101.65 85.05L104.95 81.75M116.95 78.70H120.25M118.60 77.05V80.35M116.95 77.05L120.25 80.35M116.95 80.35L120.25 77.05M128.81 76.01H132.11M130.46 74.36V77.66M128.81 74.36L132.11 77.66M128.81 77.66L132.11 74.36M138.50 74.61H141.80M140.15 72.96V76.26M138.50 72.96L141.80 76.26M138.50 76.26L141.80 72.96M146.70 73.90H150.00M148.35 72.25V75.55M146.70 72.25L150.00 75.55M146.70 75.55L150.00 72.25M153.80 73.60H157.10M155.45 71.95V75.25M153.80 71.95L157.10 75.25M153.80 75.25L157.10 71.95M160.06 73.70H163.36M161.71 72.05V75.35M160.06 72.05L163.36 75.35M160.06 75.35L163.36 72.05M165.66 73.89H168.96M167.31 72.24V75.54M165.66 72.24L168.96 75.54M165.66 75.54L168.96 72.24M170.73 74.21H174.03M172.38 72.56V75.86M170.73 72.56L174.03 75.86M170.73 75.86L174.03 72.56M175.35 74.57H178.65M177.00 72.92V76.22M175.35 72.92L178.65 76.22M175.35 76.22L178.65 72.92M179.61 74.90H182.91M181.26 73.25V76.55M179.61 73.25L182.91 76.55M179.61 76.55L182.91 73.25M183.55 75.21H186.85M185.20 73.56V76.86M183.55 73.56L186.85 76.86M183.55 76.86L186.85 73.56M187.22 75.52H190.52M188.87 73.87V77.17M187.22 73.87L190.52 77.17M187.22 77.17L190.52 73.87M190.65 75.83H193.95M192.30 74.18V77.48M190.65 74.18L193.95 77.48M190.65 77.48L193.95 74.18M193.87 76.14H197.17M195.52 74.49V77.79M193.87 74.49L197.17 77.79M193.87 77.79L197.17 74.49M196.91 76.45H200.21M198.56 74.80V78.10M196.91 74.80L200.21 78.10M196.91 78.10L200.21 74.80M199.79 76.76H203.09M201.44 75.11V78.41M199.79 75.11L203.09 78.41M199.79 78.41L203.09 75.11M202.51 77.07H205.81M204.16 75.42V78.72M202.51 75.42L205.81 78.72M202.51 78.72L205.81 75.42M205.11 77.38H208.41M206.76 75.73V79.03M205.11 75.73L208.41 79.03M205.11 79.03L208.41 75.73M207.58 77.70H210.88M209.23 76.05V79.35M207.58 76.05L210.88 79.35M207.58 79.35L210.88 76.05M209.94 78.01H213.24M211.59 76.36V79.66M209.94 76.36L213.24 79.66M209.94 79.66L213.24 76.36M212.21 78.32H215.51M213.86 76.67V79.97M212.21 76.67L215.51 79.97M212.21 79.97L215.51 76.67M214.38 78.62H217.68M216.03 76.97V80.27M214.38 76.97L217.68 80.27M214.38 80.27L217.68 76.97M216.46 78.92H219.76M218.11 77.27V80.57M216.46 77.27L219.76 80.57M216.46 80.57L219.76 77.27M218.47 79.22H221.77M220.12 77.57V80.87M218.47 77.57L221.77 80.87M218.47 80.87L221.77 77.57M220.40 79.52H223.70M222.05 77.87V81.17M220.40 77.87L223.70 81.17M220.40 81.17L223.70 77.87M222.27 79.84H225.57M223.92 78.19V81.49M222.27 78.19L225.57 81.49M222.27 81.49L225.57 78.19M224.07 80.16H227.37M225.72 78.51V81.81M224.07 78.51L227.37 81.81M224.07 81.81L227.37 78.51M225.81 80.48H229.11M227.46 78.83V82.13M225.81 78.83L229.11 82.13M225.81 82.13L229.11 78.83M227.50 80.79H230.80M229.15 79.14V82.44M227.50 79.14L230.80 82.44M227.50 82.44L230.80 79.14M229.14 81.10H232.44M230.79 79.45V82.75M229.14 79.45L232.44 82.75M229.14 82.75L232.44 79.45M230.73 81.39H234.03M232.38 79.74V83.04M230.73 79.74L234.03 83.04M230.73 83.04L234.03 79.74M232.27 81.67H235.57M233.92 80.02V83.32M232.27 80.02L235.57 83.32M232.27 83.32L235.57 80.02M233.76 81.92H237.06M235.41 80.27V83.57M233.76 80.27L237.06 83.57M233.76 83.57L237.06 80.27M235.22 82.16H238.52M236.87 80.51V83.81M235.22 80.51L238.52 83.81M235.22 83.81L238.52 80.51M236.64 82.37H239.94M238.29 80.72V84.02M236.64 80.72L239.94 84.02M236.64 84.02L239.94 80.72M238.02 82.56H241.32M239.67 80.91V84.21M238.02 80.91L241.32 84.21M238.02 84.21L241.32 80.91M239.37 82.72H242.67M241.02 81.07V84.37M239.37 81.07L242.67 84.37M239.37 84.37L242.67 81.07M240.68 82.87H243.98M242.33 81.22V84.52M240.68 81.22L243.98 84.52M240.68 84.52L243.98 81.22M241.96 83.01H245.26M243.61 81.36V84.66M241.96 81.36L245.26 84.66M241.96 84.66L245.26 81.36M243.21 83.13H246.51M244.86 81.48V84.78M243.21 81.48L246.51 84.78M243.21 84.78L246.51 81.48M244.43 83.25H247.73M246.08 81.60V84.90M244.43 81.60L247.73 84.90M244.43 84.90L247.73 81.60M245.63 83.36H248.93M247.28 81.71V85.01M245.63 81.71L248.93 85.01M245.63 85.01L248.93 81.71M246.80 83.46H250.10M248.45 81.81V85.11M246.80 81.81L250.10 85.11M246.80 85.11L250.10 81.81M247.94 83.56H251.24M249.59 81.91V85.21M247.94 81.91L251.24 85.21M247.94 85.21L251.24 81.91M249.06 83.66H252.36M250.71 82.01V85.31M249.06 82.01L252.36 85.31M249.06 85.31L252.36 82.01M250.16 83.75H253.46M251.81 82.10V85.40M250.16 82.10L253.46 85.40M250.16 85.40L253.46 82.10M251.23 83.85H254.53M252.88 82.20V85.50M251.23 82.20L254.53 85.50M251.23 85.50L254.53 82.20M252.28 83.94H255.58M253.93 82.29V85.59M252.28 82.29L255.58 85.59M252.28 85.59L255.58 82.29M253.31 84.04H256.61M254.96 82.39V85.69M253.31 82.39L256.61 85.69M253.31 85.69L256.61 82.39M254.33 84.14H257.63M255.98 82.49V85.79M254.33 82.49L257.63 85.79M254.33 85.79L257.63 82.49M255.32 84.25H258.62M256.97 82.60V85.90M255.32 82.60L258.62 85.90M255.32 85.90L258.62 82.60M256.30 84.35H259.60M257.95 82.70V86.00M256.30 82.70L259.60 86.00M256.30 86.00L259.60 82.70M257.25 84.46H260.55M258.90 82.81V86.11M257.25 82.81L260.55 86.11M257.25 86.11L260.55 82.81M258.20 84.58H261.50M259.85 82.93V86.23M258.20 82.93L261.50 86.23M258.20 86.23L261.50 82.93M259.12 84.70H262.42M260.77 83.05V86.35M259.12 83.05L262.42 86.35M259.12 86.35L262.42 83.05M260.03 84.82H263.33M261.68 83.17V86.47M260.03 83.17L263.33 86.47M260.03 86.47L263.33 83.17M260.92 84.94H264.22M262.57 83.29V86.59M260.92 83.29L264.22 86.59M260.92 86.59L264.22 83.29M261.80 85.07H265.10M263.45 83.42V86.72M261.80 83.42L265.10 86.72M261.80 86.72L265.10 83.42M262.67 85.19H265.97M264.32 83.54V86.84M262.67 83.54L265.97 86.84M262.67 86.84L265.97 83.54M263.52 85.32H266.82M265.17 83.67V86.97M263.52 83.67L266.82 86.97M263.52 86.97L266.82 83.67M264.35 85.45H267.65M266.00 83.80V87.10M264.35 83.80L267.65 87.10M264.35 87.10L267.65 83.80M265.18 85.59H268.48M266.83 83.94V87.24M265.18 83.94L268.48 87.24M265.18 87.24L268.48 83.94M265.99 85.72H269.29M267.64 84.07V87.37M265.99 84.07L269.29 87.37M265.99 87.37L269.29 84.07M266.79 85.86H270.09M268.44 84.21V87.51M266.79 84.21L270.09 87.51M266.79 87.51L270.09 84.21M267.58 86.00H270.88M269.23 84.35V87.65M267.58 84.35L270.88 87.65M267.58 87.65L270.88 84.35M268.35 86.14H271.65M270.00 84.49V87.79M268.35 84.49L271.65 87.79M268.35 87.79L271.65 84.49M269.12 86.29H272.42M270.77 84.64V87.94M269.12 84.64L272.42 87.94M269.12 87.94L272.42 84.64M269.87 86.44H273.17M271.52 84.79V88.09M269.87 84.79L273.17 88.09M269.87 88.09L273.17 84.79M270.62 86.59H273.92M272.27 84.94V88.24M270.62 84.94L273.92 88.24M270.62 88.24L273.92 84.94M271.35 86.75H274.65M273.00 85.10V88.40M271.35 85.10L274.65 88.40M271.35 88.40L274.65 85.10M272.07 86.91H275.37M273.72 85.26V88.56M272.07 85.26L275.37 88.56M272.07 88.56L275.37 85.26M272.79 87.07H276.09M274.44 85.42V88.72M272.79 85.42L276.09 88.72M272.79 88.72L276.09 85.42M273.49 87.23H276.79M275.14 85.58V88.88M273.49 85.58L276.79 88.88M273.49 88.88L276.79 85.58M274.19 87.40H277.49M275.84 85.75V89.05M274.19 85.75L277.49 89.05M274.19 89.05L277.49 85.75M274.87 87.58H278.17M276.52 85.93V89.23M274.87 85.93L278.17 89.23M274.87 89.23L278.17 85.93M275.55 87.77H278.85M277.20 86.12V89.42M275.55 86.12L278.85 89.42M275.55 89.42L278.85 86.12M276.22 87.96H279.52M277.87 86.31V89.61M276.22 86.31L279.52 89.61M276.22 89.61L279.52 86.31M276.88 88.16H280.18M278.53 86.51V89.81M276.88 86.51L280.18 89.81M276.88 89.81L280.18 86.51M277.53 88.36H280.83M279.18 86.71V90.01M277.53 86.71L280.83 90.01M277.53 90.01L280.83 86.71M278.18 88.57H281.48M279.83 86.92V90.22M278.18 86.92L281.48 90.22M278.18 90.22L281.48 86.92M278.81 88.78H282.11M280.46 87.13V90.43M278.81 87.13L282.11 90.43M278.81 90.43L282.11 87.13M279.44 89.00H282.74M281.09 87.35V90.65M279.44 87.35L282.74 90.65M279.44 90.65L282.74 87.35M280.06 89.22H283.36M281.71 87.57V90.87M280.06 87.57L283.36 90.87M280.06 90.87L283.36 87.57M280.68 89.45H283.98M282.33 87.80V91.10M280.68 87.80L283.98 91.10M280.68 91.10L283.98 87.80M281.29 89.68H284.59M282.94 88.03V91.33M281.29 88.03L284.59 91.33M281.29 91.33L284.59 88.03M281.89 89.91H285.19M283.54 88.26V91.56M281.89 88.26L285.19 91.56M281.89 91.56L285.19 88.26M282.48 90.15H285.78M284.13 88.50V91.80M282.48 88.50L285.78 91.80M282.48 91.80L285.78 88.50M283.07 90.39H286.37M284.72 88.74V92.04M283.07 88.74L286.37 92.04M283.07 92.04L286.37 88.74M283.65 90.63H286.95M285.30 88.98V92.28M283.65 88.98L286.95 92.28M283.65 92.28L286.95 88.98M284.22 90.88H287.52M285.87 89.23V92.53M284.22 89.23L287.52 92.53M284.22 92.53L287.52 89.23M284.79 91.13H288.09M286.44 89.48V92.78M284.79 89.48L288.09 92.78M284.79 92.78L288.09 89.48M285.35 91.38H288.65M287.00 89.73V93.03M285.35 89.73L288.65 93.03M285.35 93.03L288.65 89.73M285.91 91.63H289.21M287.56 89.98V93.28M285.91 89.98L289.21 93.28M285.91 93.28L289.21 89.98M286.46 91.89H289.76M288.11 90.24V93.54M286.46 90.24L289.76 93.54M286.46 93.54L289.76 90.24M287.01 92.15H290.31M288.66 90.50V93.80M287.01 90.50L290.31 93.80M287.01 93.80L290.31 90.50M287.55 92.41H290.85M289.20 90.76V94.06M287.55 90.76L290.85 94.06M287.55 94.06L290.85 90.76M288.08 92.67H291.38M289.73 91.02V94.32M288.08 91.02L291.38 94.32M288.08 94.32L291.38 91.02M288.61 92.93H291.91M290.26 91.28V94.58M288.61 91.28L291.91 94.58M288.61 94.58L291.91 91.28M289.13 93.21H292.43M290.78 91.56V94.86M289.13 91.56L292.43 94.86M289.13 94.86L292.43 91.56M289.65 93.49H292.95M291.30 91.84V95.14M289.65 91.84L292.95 95.14M289.65 95.14L292.95 91.84M290.17 93.79H293.47M291.82 92.14V95.44M290.17 92.14L293.47 95.44M290.17 95.44L293.47 92.14M290.68 94.10H293.98M292.33 92.45V95.75M290.68 92.45L293.98 95.75M290.68 95.75L293.98 92.45M291.18 94.42H294.48M292.83 92.77V96.07M291.18 92.77L294.48 96.07M291.18 96.07L294.48 92.77M291.68 94.74H294.98M293.33 93.09V96.39M291.68 93.09L294.98 96.39M291.68 96.39L294.98 93.09M292.17 95.07H295.47M293.82 93.42V96.72M292.17 93.42L295.47 96.72M292.17 96.72L295.47 93.42M292.66 95.41H295.96M294.31 93.76V97.06M292.66 93.76L295.96 97.06M292.66 97.06L295.96 93.76M293.15 95.75H296.45M294.80 94.10V97.40M293.15 94.10L296.45 97.40M293.15 97.40L296.45 94.10M293.63 96.10H296.93M295.28 94.45V97.75M293.63 94.45L296.93 97.75M293.63 97.75L296.93 94.45M294.11 96.45H297.41M295.76 94.80V98.10M294.11 94.80L297.41 98.10M294.11 98.10L297.41 94.80M294.58 96.80H297.88M296.23 95.15V98.45M294.58 95.15L297.88 98.45M294.58 98.45L297.88 95.15M295.05 97.16H298.35M296.70 95.51V98.81M295.05 95.51L298.35 98.81M295.05 98.81L298.35 95.51M295.51 97.51H298.81M297.16 95.86V99.16M295.51 95.86L298.81 99.16M295.51 99.16L298.81 95.86M295.97 97.87H299.27M297.62 96.22V99.52M295.97 96.22L299.27 99.52M295.97 99.52L299.27 96.22M296.43 98.23H299.73M298.08 96.58V99.88M296.43 96.58L299.73 99.88M296.43 99.88L299.73 96.58M296.88 98.58H300.18M298.53 96.93V100.23M296.88 96.93L300.18 100.23M296.88 100.23L300.18 96.93M297.33 98.94H300.63M298.98 97.29V100.59M297.33 97.29L300.63 100.59M297.33 100.59L300.63 97.29M297.78 99.30H301.08M299.43 97.65V100.95M297.78 97.65L301.08 100.95M297.78 100.95L301.08 97.65M298.22 99.65H301.52M299.87 98.00V101.30M298.22 98.00L301.52 101.30M298.22 101.30L301.52 98.00M298.65 100.00H301.95M300.30 98.35V101.65M298.65 98.35L301.95 101.65M298.65 101.65L301.95 98.35M299.09 100.35H302.39M300.74 98.70V102.00M299.09 98.70L302.39 102.00M299.09 102.00L302.39 98.70M299.52 100.70H302.82M301.17 99.05V102.35M299.52 99.05L302.82 102.35M299.52 102.35L302.82 99.05M299.95 101.05H303.25M301.60 99.40V102.70M299.95 99.40L303.25 102.70M299.95 102.70L303.25 99.40M300.37 101.41H303.67M302.02 99.76V103.06M300.37 99.76L303.67 103.06M300.37 103.06L303.67 99.76M300.79 101.76H304.09M302.44 100.11V103.41M300.79 100.11L304.09 103.41M300.79 103.41L304.09 100.11M301.21 102.12H304.51M302.86 100.47V103.77M301.21 100.47L304.51 103.77M301.21 103.77L304.51 100.47M301.62 102.48H304.92M303.27 100.83V104.13M301.62 100.83L304.92 104.13M301.62 104.13L304.92 100.83M302.03 102.84H305.33M303.68 101.19V104.49M302.03 101.19L305.33 104.49M302.03 104.49L305.33 101.19M302.44 103.22H305.74M304.09 101.57V104.87M302.44 101.57L305.74 104.87M302.44 104.87L305.74 101.57M302.84 103.59H306.14M304.49 101.94V105.24M302.84 101.94L306.14 105.24M302.84 105.24L306.14 101.94M303.24 103.98H306.54M304.89 102.33V105.63M303.24 102.33L306.54 105.63M303.24 105.63L306.54 102.33M303.64 104.37H306.94M305.29 102.72V106.02M303.64 102.72L306.94 106.02M303.64 106.02L306.94 102.72M304.04 104.76H307.34M305.69 103.11V106.41M304.04 103.11L307.34 106.41M304.04 106.41L307.34 103.11M304.43 105.17H307.73M306.08 103.52V106.82M304.43 103.52L307.73 106.82M304.43 106.82L307.73 103.52M304.82 105.59H308.12M306.47 103.94V107.24M304.82 103.94L308.12 107.24M304.82 107.24L308.12 103.94M305.21 106.01H308.51M306.86 104.36V107.66M305.21 104.36L308.51 107.66M305.21 107.66L308.51 104.36M305.59 106.45H308.89M307.24 104.80V108.10M305.59 104.80L308.89 108.10M305.59 108.10L308.89 104.80M305.97 106.90H309.27M307.62 105.25V108.55M305.97 105.25L309.27 108.55M305.97 108.55L309.27 105.25M306.35 107.37H309.65M308.00 105.72V109.02M306.35 105.72L309.65 109.02M306.35 109.02L309.65 105.72M306.73 107.85H310.03M308.38 106.20V109.50M306.73 106.20L310.03 109.50M306.73 109.50L310.03 106.20M307.10 108.35H310.40M308.75 106.70V110.00M307.10 106.70L310.40 110.00M307.10 110.00L310.40 106.70M307.47 108.87H310.77M309.12 107.22V110.52M307.47 107.22L310.77 110.52M307.47 110.52L310.77 107.22M307.84 109.39H311.14M309.49 107.74V111.04M307.84 107.74L311.14 111.04M307.84 111.04L311.14 107.74M308.20 109.93H311.50M309.85 108.28V111.58M308.20 108.28L311.50 111.58M308.20 111.58L311.50 108.28M308.57 110.47H311.87M310.22 108.82V112.12M308.57 108.82L311.87 112.12M308.57 112.12L311.87 108.82M308.93 111.03H312.23M310.58 109.38V112.68M308.93 109.38L312.23 112.68M308.93 112.68L312.23 109.38M309.28 111.59H312.58M310.93 109.94V113.24M309.28 109.94L312.58 113.24M309.28 113.24L312.58 109.94M309.64 112.15H312.94M311.29 110.50V113.80M309.64 110.50L312.94 113.80M309.64 113.80L312.94 110.50M309.99 112.72H313.29M311.64 111.07V114.37M309.99 111.07L313.29 114.37M309.99 114.37L313.29 111.07M310.34 113.29H313.64M311.99 111.64V114.94M310.34 111.64L313.64 114.94M310.34 114.94L313.64 111.64M310.69 113.86H313.99M312.34 112.21V115.51M310.69 112.21L313.99 115.51M310.69 115.51L313.99 112.21M311.04 114.44H314.34M312.69 112.79V116.09M311.04 112.79L314.34 116.09M311.04 116.09L314.34 112.79M311.38 115.01H314.68M313.03 113.36V116.66M311.38 113.36L314.68 116.66M311.38 116.66L314.68 113.36M311.72 115.58H315.02M313.37 113.93V117.23M311.72 113.93L315.02 117.23M311.72 117.23L315.02 113.93M312.06 116.15H315.36M313.71 114.50V117.80M312.06 114.50L315.36 117.80M312.06 117.80L315.36 114.50M312.40 116.71H315.70M314.05 115.06V118.36M312.40 115.06L315.70 118.36M312.40 118.36L315.70 115.06M312.74 117.27H316.04M314.39 115.62V118.92M312.74 115.62L316.04 118.92M312.74 118.92L316.04 115.62M313.07 117.82H316.37M314.72 116.17V119.47M313.07 116.17L316.37 119.47M313.07 119.47L316.37 116.17M313.40 118.37H316.70M315.05 116.72V120.02M313.40 116.72L316.70 120.02M313.40 120.02L316.70 116.72M313.73 118.91H317.03M315.38 117.26V120.56M313.73 117.26L317.03 120.56M313.73 120.56L317.03 117.26M314.06 119.45H317.36M315.71 117.80V121.10M314.06 117.80L317.36 121.10M314.06 121.10L317.36 117.80M314.38 119.97H317.68M316.03 118.32V121.62M314.38 118.32L317.68 121.62M314.38 121.62L317.68 118.32M314.71 120.49H318.01M316.36 118.84V122.14M314.71 118.84L318.01 122.14M314.71 122.14L318.01 118.84M315.03 120.99H318.33M316.68 119.34V122.64M315.03 119.34L318.33 122.64M315.03 122.64L318.33 119.34M315.35 121.49H318.65M317.00 119.84V123.14M315.35 119.84L318.65 123.14M315.35 123.14L318.65 119.84M315.66 121.98H318.96M317.31 120.33V123.63M315.66 120.33L318.96 123.63M315.66 123.63L318.96 120.33M315.98 122.46H319.28M317.63 120.81V124.11M315.98 120.81L319.28 124.11M315.98 124.11L319.28 120.81M316.29 122.94H319.59M317.94 121.29V124.59M316.29 121.29L319.59 124.59M316.29 124.59L319.59 121.29M316.61 123.42H319.91M318.26 121.77V125.07M316.61 121.77L319.91 125.07M316.61 125.07L319.91 121.77M316.92 123.90H320.22M318.57 122.25V125.55M316.92 122.25L320.22 125.55M316.92 125.55L320.22 122.25M317.22 124.38H320.52M318.87 122.73V126.03M317.22 122.73L320.52 126.03M317.22 126.03L320.52 122.73M317.53 124.87H320.83M319.18 123.22V126.52M317.53 123.22L320.83 126.52M317.53 126.52L320.83 123.22" fill="none" stroke="#0000ff" stroke-width="0.65"/>
<path d="M317.83 125.01H321.13M319.48 123.36V126.66M317.83 123.36L321.13 126.66M317.83 126.66L321.13 123.36M318.14 126.48H321.44M319.79 124.83V128.13M318.14 124.83L321.44 128.13M318.14 128.13L321.44 124.83M318.44 125.90H321.74M320.09 124.25V127.55M318.44 124.25L321.74 127.55M318.44 127.55L321.74 124.25M318.74 126.84H322.04M320.39 125.19V128.49M318.74 125.19L322.04 128.49M318.74 128.49L322.04 125.19M319.04 127.60H322.34M320.69 125.95V129.25M319.04 125.95L322.34 129.25M319.04 129.25L322.34 125.95M319.33 127.99H322.63M320.98 126.34V129.64M319.33 126.34L322.63 129.64M319.33 129.64L322.63 126.34M319.63 128.30H322.93M321.28 126.65V129.95M319.63 126.65L322.93 129.95M319.63 129.95L322.93 126.65M319.92 128.41H323.22M321.57 126.76V130.06M319.92 126.76L323.22 130.06M319.92 130.06L323.22 126.76M320.21 129.32H323.51M321.86 127.67V130.97M320.21 127.67L323.51 130.97M320.21 130.97L323.51 127.67M320.50 131.12H323.80M322.15 129.47V132.77M320.50 129.47L323.80 132.77M320.50 132.77L323.80 129.47M320.79 130.35H324.09M322.44 128.70V132.00M320.79 128.70L324.09 132.00M320.79 132.00L324.09 128.70M321.08 131.97H324.38M322.73 130.32V133.62M321.08 130.32L324.38 133.62M321.08 133.62L324.38 130.32M321.36 132.13H324.66M323.01 130.48V133.78M321.36 130.48L324.66 133.78M321.36 133.78L324.66 130.48M321.64 132.56H324.94M323.29 130.91V134.21M321.64 130.91L324.94 134.21M321.64 134.21L324.94 130.91M321.93 133.74H325.23M323.58 132.09V135.39M321.93 132.09L325.23 135.39M321.93 135.39L325.23 132.09M322.21 134.39H325.51M323.86 132.74V136.04M322.21 132.74L325.51 136.04M322.21 136.04L325.51 132.74M322.49 135.30H325.79M324.14 133.65V136.95M322.49 133.65L325.79 136.95M322.49 136.95L325.79 133.65M322.76 136.03H326.06M324.41 134.38V137.68M322.76 134.38L326.06 137.68M322.76 137.68L326.06 134.38M323.04 136.67H326.34M324.69 135.02V138.32M323.04 135.02L326.34 138.32M323.04 138.32L326.34 135.02M323.31 137.41H326.61M324.96 135.76V139.06M323.31 135.76L326.61 139.06M323.31 139.06L326.61 135.76M323.59 137.96H326.89M325.24 136.31V139.61M323.59 136.31L326.89 139.61M323.59 139.61L326.89 136.31M323.86 138.52H327.16M325.51 136.87V140.17M323.86 136.87L327.16 140.17M323.86 140.17L327.16 136.87M324.13 139.84H327.43M325.78 138.19V141.49M324.13 138.19L327.43 141.49M324.13 141.49L327.43 138.19M324.40 139.79H327.70M326.05 138.14V141.44M324.40 138.14L327.70 141.44M324.40 141.44L327.70 138.14M324.67 141.37H327.97M326.32 139.72V143.02M324.67 139.72L327.97 143.02M324.67 143.02L327.97 139.72M324.93 142.72H328.23M326.58 141.07V144.37M324.93 141.07L328.23 144.37M324.93 144.37L328.23 141.07M325.20 142.99H328.50M326.85 141.34V144.64M325.20 141.34L328.50 144.64M325.20 144.64L328.50 141.34M325.46 144.51H328.76M327.11 142.86V146.16M325.46 142.86L328.76 146.16M325.46 146.16L328.76 142.86M325.73 144.73H329.03M327.38 143.08V146.38M325.73 143.08L329.03 146.38M325.73 146.38L329.03 143.08M325.99 145.60H329.29M327.64 143.95V147.25M325.99 143.95L329.29 147.25M325.99 147.25L329.29 143.95M326.25 145.97H329.55M327.90 144.32V147.62M326.25 144.32L329.55 147.62M326.25 147.62L329.55 144.32M326.51 147.66H329.81M328.16 146.01V149.31M326.51 146.01L329.81 149.31M326.51 149.31L329.81 146.01M326.76 146.40H330.06M328.41 144.75V148.05M326.76 144.75L330.06 148.05M326.76 148.05L330.06 144.75M327.02 148.89H330.32M328.67 147.24V150.54M327.02 147.24L330.32 150.54M327.02 150.54L330.32 147.24M327.27 148.75H330.57M328.92 147.10V150.40M327.27 147.10L330.57 150.40M327.27 150.40L330.57 147.10M327.53 151.15H330.83M329.18 149.50V152.80M327.53 149.50L330.83 152.80M327.53 152.80L330.83 149.50M327.78 150.34H331.08M329.43 148.69V151.99M327.78 148.69L331.08 151.99M327.78 151.99L331.08 148.69M328.03 153.25H331.33M329.68 151.60V154.90M328.03 151.60L331.33 154.90M328.03 154.90L331.33 151.60M328.28 151.59H331.58M329.93 149.94V153.24M328.28 149.94L331.58 153.24M328.28 153.24L331.58 149.94M328.53 152.61H331.83M330.18 150.96V154.26M328.53 150.96L331.83 154.26M328.53 154.26L331.83 150.96M328.78 154.31H332.08M330.43 152.66V155.96M328.78 152.66L332.08 155.96M328.78 155.96L332.08 152.66M329.03 153.50H332.33M330.68 151.85V155.15M329.03 151.85L332.33 155.15M329.03 155.15L332.33 151.85M329.27 156.41H332.57M330.92 154.76V158.06M329.27 154.76L332.57 158.06M329.27 158.06L332.57 154.76M329.52 154.32H332.82M331.17 152.67V155.97M329.52 152.67L332.82 155.97M329.52 155.97L332.82 152.67M329.76 156.35H333.06M331.41 154.70V158.00M329.76 154.70L333.06 158.00M329.76 158.00L333.06 154.70M330.00 159.15H333.30M331.65 157.50V160.80M330.00 157.50L333.30 160.80M330.00 160.80L333.30 157.50M330.24 158.23H333.54M331.89 156.58V159.88M330.24 156.58L333.54 159.88M330.24 159.88L333.54 156.58M330.48 160.15H333.78M332.13 158.50V161.80M330.48 158.50L333.78 161.80M330.48 161.80L333.78 158.50M330.72 159.53H334.02M332.37 157.88V161.18M330.72 157.88L334.02 161.18M330.72 161.18L334.02 157.88M330.96 160.59H334.26M332.61 158.94V162.24M330.96 158.94L334.26 162.24M330.96 162.24L334.26 158.94M331.20 160.59H334.50M332.85 158.94V162.24M331.20 158.94L334.50 162.24M331.20 162.24L334.50 158.94M331.43 160.56H334.73M333.08 158.91V162.21M331.43 158.91L334.73 162.21M331.43 162.21L334.73 158.91M331.67 164.66H334.97M333.32 163.01V166.31M331.67 163.01L334.97 166.31M331.67 166.31L334.97 163.01M331.90 164.31H335.20M333.55 162.66V165.96M331.90 162.66L335.20 165.96M331.90 165.96L335.20 162.66M332.13 165.07H335.43M333.78 163.42V166.72M332.13 163.42L335.43 166.72M332.13 166.72L335.43 163.42M332.36 164.71H335.66M334.01 163.06V166.36M332.36 163.06L335.66 166.36M332.36 166.36L335.66 163.06M332.60 166.97H335.90M334.25 165.32V168.62M332.60 165.32L335.90 168.62M332.60 168.62L335.90 165.32M332.83 164.72H336.13M334.48 163.07V166.37M332.83 163.07L336.13 166.37M332.83 166.37L336.13 163.07M333.05 166.75H336.35M334.70 165.10V168.40M333.05 165.10L336.35 168.40M333.05 168.40L336.35 165.10M333.28 167.44H336.58M334.93 165.79V169.09M333.28 165.79L336.58 169.09M333.28 169.09L336.58 165.79M333.51 169.90H336.81M335.16 168.25V171.55M333.51 168.25L336.81 171.55M333.51 171.55L336.81 168.25M333.73 169.09H337.03M335.38 167.44V170.74M333.73 167.44L337.03 170.74M333.73 170.74L337.03 167.44M333.96 169.68H337.26M335.61 168.03V171.33M333.96 168.03L337.26 171.33M333.96 171.33L337.26 168.03M334.18 171.73H337.48M335.83 170.08V173.38M334.18 170.08L337.48 173.38M334.18 173.38L337.48 170.08M334.41 171.60H337.71M336.06 169.95V173.25M334.41 169.95L337.71 173.25M334.41 173.25L337.71 169.95M334.63 175.45H337.93M336.28 173.80V177.10M334.63 173.80L337.93 177.10M334.63 177.10L337.93 173.80M334.85 174.99H338.15M336.50 173.34V176.64M334.85 173.34L338.15 176.64M334.85 176.64L338.15 173.34M335.07 173.07H338.37M336.72 171.42V174.72M335.07 171.42L338.37 174.72M335.07 174.72L338.37 171.42M335.29 175.46H338.59M336.94 173.81V177.11M335.29 173.81L338.59 177.11M335.29 177.11L338.59 173.81M335.51 174.64H338.81M337.16 172.99V176.29M335.51 172.99L338.81 176.29M335.51 176.29L338.81 172.99M335.72 177.15H339.02M337.37 175.50V178.80M335.72 175.50L339.02 178.80M335.72 178.80L339.02 175.50M335.94 177.07H339.24M337.59 175.42V178.72M335.94 175.42L339.24 178.72M335.94 178.72L339.24 175.42M336.16 179.53H339.46M337.81 177.88V181.18M336.16 177.88L339.46 181.18M336.16 181.18L339.46 177.88M336.37 179.10H339.67M338.02 177.45V180.75M336.37 177.45L339.67 180.75M336.37 180.75L339.67 177.45M336.59 183.18H339.89M338.24 181.53V184.83M336.59 181.53L339.89 184.83M336.59 184.83L339.89 181.53M336.80 179.52H340.10M338.45 177.87V181.17M336.80 177.87L340.10 181.17M336.80 181.17L340.10 177.87M337.01 179.62H340.31M338.66 177.97V181.27M337.01 177.97L340.31 181.27M337.01 181.27L340.31 177.97M337.22 183.40H340.52M338.87 181.75V185.05M337.22 181.75L340.52 185.05M337.22 185.05L340.52 181.75M337.43 182.44H340.73M339.08 180.79V184.09M337.43 180.79L340.73 184.09M337.43 184.09L340.73 180.79M337.64 182.95H340.94M339.29 181.30V184.60M337.64 181.30L340.94 184.60M337.64 184.60L340.94 181.30M337.85 184.90H341.15M339.50 183.25V186.55M337.85 183.25L341.15 186.55M337.85 186.55L341.15 183.25M338.06 185.03H341.36M339.71 183.38V186.68M338.06 183.38L341.36 186.68M338.06 186.68L341.36 183.38M338.27 189.43H341.57M339.92 187.78V191.08M338.27 187.78L341.57 191.08M338.27 191.08L341.57 187.78M338.47 189.26H341.77M340.12 187.61V190.91M338.47 187.61L341.77 190.91M338.47 190.91L341.77 187.61M338.68 186.78H341.98M340.33 185.13V188.43M338.68 185.13L341.98 188.43M338.68 188.43L341.98 185.13M338.88 193.01H342.18M340.53 191.36V194.66M338.88 191.36L342.18 194.66M338.88 194.66L342.18 191.36M339.09 187.68H342.39M340.74 186.03V189.33M339.09 186.03L342.39 189.33M339.09 189.33L342.39 186.03M339.54 212.90H342.34M340.94 211.50V214.30M339.54 211.50L342.34 214.30M339.54 214.30L342.34 211.50M339.49 193.60H342.79M341.14 191.95V195.25M339.49 191.95L342.79 195.25M339.49 195.25L342.79 191.95M339.70 196.54H343.00M341.35 194.89V198.19M339.70 194.89L343.00 198.19M339.70 198.19L343.00 194.89M339.90 203.18H343.20M341.55 201.53V204.83M339.90 201.53L343.20 204.83M339.90 204.83L343.20 201.53M340.10 192.61H343.40M341.75 190.96V194.26M340.10 190.96L343.40 194.26M340.10 194.26L343.40 190.96M340.30 196.27H343.60M341.95 194.62V197.92M340.30 194.62L343.60 197.92M340.30 197.92L343.60 194.62M340.49 201.10H343.79M342.14 199.45V202.75M340.49 199.45L343.79 202.75M340.49 202.75L343.79 199.45M340.89 200.43H344.19M342.54 198.78V202.08M340.89 198.78L344.19 202.08M340.89 202.08L344.19 198.78M341.09 204.68H344.39M342.74 203.03V206.33M341.09 203.03L344.39 206.33M341.09 206.33L344.39 203.03M341.28 206.41H344.58M342.93 204.76V208.06M341.28 204.76L344.58 208.06M341.28 208.06L344.58 204.76M341.73 212.90H344.53M343.13 211.50V214.30M341.73 211.50L344.53 214.30M341.73 214.30L344.53 211.50M341.67 204.49H344.97M343.32 202.84V206.14M341.67 202.84L344.97 206.14M341.67 206.14L344.97 202.84M341.87 207.68H345.17M343.52 206.03V209.33M341.87 206.03L345.17 209.33M341.87 209.33L345.17 206.03M342.25 208.06H345.55M343.90 206.41V209.71M342.25 206.41L345.55 209.71M342.25 209.71L345.55 206.41M342.44 207.72H345.74M344.09 206.07V209.37M342.44 206.07L345.74 209.37M342.44 209.37L345.74 206.07M342.63 204.86H345.93M344.28 203.21V206.51M342.63 203.21L345.93 206.51M342.63 206.51L345.93 203.21M343.07 212.90H345.87M344.47 211.50V214.30M343.07 211.50L345.87 214.30M343.07 214.30L345.87 211.50M343.26 212.90H346.06M344.66 211.50V214.30M343.26 211.50L346.06 214.30M343.26 214.30L346.06 211.50M343.45 212.90H346.25M344.85 211.50V214.30M343.45 211.50L346.25 214.30M343.45 214.30L346.25 211.50M343.39 201.06H346.69M345.04 199.41V202.71M343.39 199.41L346.69 202.71M343.39 202.71L346.69 199.41M343.83 212.90H346.63M345.23 211.50V214.30M343.83 211.50L346.63 214.30M343.83 214.30L346.63 211.50M343.76 198.88H347.06M345.41 197.23V200.53M343.76 197.23L347.06 200.53M343.76 200.53L347.06 197.23" fill="none" stroke="#0000ff" stroke-width="0.5" stroke-opacity="0.8"/>
<path d="M103.30 83.05V83.75M101.30 83.05H105.30M101.30 83.75H105.30M118.60 78.35V79.05M116.60 78.35H120.60M116.60 79.05H120.60M130.46 75.66V76.36M128.46 75.66H132.46M128.46 76.36H132.46M140.15 74.26V74.96M138.15 74.26H142.15M138.15 74.96H142.15M148.35 73.55V74.25M146.35 73.55H150.35M146.35 74.25H150.35M155.45 73.25V73.95M153.45 73.25H157.45M153.45 73.95H157.45M161.71 73.35V74.05M159.71 73.35H163.71M159.71 74.05H163.71M167.31 73.54V74.24M165.31 73.54H169.31M165.31 74.24H169.31M172.38 73.86V74.56M170.38 73.86H174.38M170.38 74.56H174.38M177.00 74.22V74.92M175.00 74.22H179.00M175.00 74.92H179.00M181.26 74.55V75.25M179.26 74.55H183.26M179.26 75.25H183.26M185.20 74.86V75.56M183.20 74.86H187.20M183.20 75.56H187.20M188.87 75.17V75.87M186.87 75.17H190.87M186.87 75.87H190.87M192.30 75.48V76.18M190.30 75.48H194.30M190.30 76.18H194.30M195.52 75.79V76.49M193.52 75.79H197.52M193.52 76.49H197.52M198.56 76.10V76.80M196.56 76.10H200.56M196.56 76.80H200.56M201.44 76.41V77.11M199.44 76.41H203.44M199.44 77.11H203.44M204.16 76.72V77.42M202.16 76.72H206.16M202.16 77.42H206.16M206.76 77.03V77.73M204.76 77.03H208.76M204.76 77.73H208.76M209.23 77.35V78.05M207.23 77.35H211.23M207.23 78.05H211.23M211.59 77.66V78.36M209.59 77.66H213.59M209.59 78.36H213.59M213.86 77.97V78.67M211.86 77.97H215.86M211.86 78.67H215.86M216.03 78.27V78.97M214.03 78.27H218.03M214.03 78.97H218.03M218.11 78.57V79.27M216.11 78.57H220.11M216.11 79.27H220.11M220.12 78.87V79.57M218.12 78.87H222.12M218.12 79.57H222.12M222.05 79.17V79.87M220.05 79.17H224.05M220.05 79.87H224.05M223.92 79.49V80.19M221.92 79.49H225.92M221.92 80.19H225.92M225.72 79.81V80.51M223.72 79.81H227.72M223.72 80.51H227.72M227.46 80.13V80.83M225.46 80.13H229.46M225.46 80.83H229.46M229.15 80.44V81.14M227.15 80.44H231.15M227.15 81.14H231.15M230.79 80.75V81.45M228.79 80.75H232.79M228.79 81.45H232.79M232.38 81.04V81.74M230.38 81.04H234.38M230.38 81.74H234.38M233.92 81.32V82.02M231.92 81.32H235.92M231.92 82.02H235.92M235.41 81.57V82.27M233.41 81.57H237.41M233.41 82.27H237.41M236.87 81.81V82.51M234.87 81.81H238.87M234.87 82.51H238.87M238.29 82.02V82.72M236.29 82.02H240.29M236.29 82.72H240.29M239.67 82.21V82.91M237.67 82.21H241.67M237.67 82.91H241.67M241.02 82.37V83.07M239.02 82.37H243.02M239.02 83.07H243.02M242.33 82.52V83.22M240.33 82.52H244.33M240.33 83.22H244.33M243.61 82.66V83.36M241.61 82.66H245.61M241.61 83.36H245.61M244.86 82.78V83.48M242.86 82.78H246.86M242.86 83.48H246.86M246.08 82.90V83.60M244.08 82.90H248.08M244.08 83.60H248.08M247.28 83.01V83.71M245.28 83.01H249.28M245.28 83.71H249.28M248.45 83.11V83.81M246.45 83.11H250.45M246.45 83.81H250.45M249.59 83.21V83.91M247.59 83.21H251.59M247.59 83.91H251.59M250.71 83.31V84.01M248.71 83.31H252.71M248.71 84.01H252.71M251.81 83.40V84.10M249.81 83.40H253.81M249.81 84.10H253.81M252.88 83.50V84.20M250.88 83.50H254.88M250.88 84.20H254.88M253.93 83.59V84.29M251.93 83.59H255.93M251.93 84.29H255.93M254.96 83.69V84.39M252.96 83.69H256.96M252.96 84.39H256.96M255.98 83.79V84.49M253.98 83.79H257.98M253.98 84.49H257.98M256.97 83.90V84.60M254.97 83.90H258.97M254.97 84.60H258.97M257.95 84.00V84.70M255.95 84.00H259.95M255.95 84.70H259.95M258.90 84.11V84.81M256.90 84.11H260.90M256.90 84.81H260.90M259.85 84.23V84.93M257.85 84.23H261.85M257.85 84.93H261.85M260.77 84.35V85.05M258.77 84.35H262.77M258.77 85.05H262.77M261.68 84.47V85.17M259.68 84.47H263.68M259.68 85.17H263.68M262.57 84.59V85.29M260.57 84.59H264.57M260.57 85.29H264.57M263.45 84.72V85.42M261.45 84.72H265.45M261.45 85.42H265.45M264.32 84.84V85.54M262.32 84.84H266.32M262.32 85.54H266.32M265.17 84.97V85.67M263.17 84.97H267.17M263.17 85.67H267.17M266.00 85.10V85.80M264.00 85.10H268.00M264.00 85.80H268.00M266.83 85.24V85.94M264.83 85.24H268.83M264.83 85.94H268.83M267.64 85.37V86.07M265.64 85.37H269.64M265.64 86.07H269.64M268.44 85.51V86.21M266.44 85.51H270.44M266.44 86.21H270.44M269.23 85.65V86.35M267.23 85.65H271.23M267.23 86.35H271.23M270.00 85.79V86.49M268.00 85.79H272.00M268.00 86.49H272.00M270.77 85.94V86.64M268.77 85.94H272.77M268.77 86.64H272.77M271.52 86.09V86.79M269.52 86.09H273.52M269.52 86.79H273.52M272.27 86.24V86.94M270.27 86.24H274.27M270.27 86.94H274.27M273.00 86.40V87.10M271.00 86.40H275.00M271.00 87.10H275.00M273.72 86.56V87.26M271.72 86.56H275.72M271.72 87.26H275.72M274.44 86.72V87.42M272.44 86.72H276.44M272.44 87.42H276.44M275.14 86.88V87.58M273.14 86.88H277.14M273.14 87.58H277.14M275.84 87.05V87.75M273.84 87.05H277.84M273.84 87.75H277.84M276.52 87.23V87.93M274.52 87.23H278.52M274.52 87.93H278.52M277.20 87.42V88.12M275.20 87.42H279.20M275.20 88.12H279.20M277.87 87.61V88.31M275.87 87.61H279.87M275.87 88.31H279.87M278.53 87.81V88.51M276.53 87.81H280.53M276.53 88.51H280.53M279.18 88.01V88.71M277.18 88.01H281.18M277.18 88.71H281.18M279.83 88.22V88.92M277.83 88.22H281.83M277.83 88.92H281.83M280.46 88.43V89.13M278.46 88.43H282.46M278.46 89.13H282.46M281.09 88.65V89.35M279.09 88.65H283.09M279.09 89.35H283.09M281.71 88.87V89.57M279.71 88.87H283.71M279.71 89.57H283.71M282.33 89.10V89.80M280.33 89.10H284.33M280.33 89.80H284.33M282.94 89.33V90.03M280.94 89.33H284.94M280.94 90.03H284.94M283.54 89.56V90.26M281.54 89.56H285.54M281.54 90.26H285.54M284.13 89.80V90.50M282.13 89.80H286.13M282.13 90.50H286.13M284.72 90.04V90.74M282.72 90.04H286.72M282.72 90.74H286.72M285.30 90.28V90.98M283.30 90.28H287.30M283.30 90.98H287.30M285.87 90.53V91.23M283.87 90.53H287.87M283.87 91.23H287.87M286.44 90.78V91.48M284.44 90.78H288.44M284.44 91.48H288.44M287.00 91.03V91.73M285.00 91.03H289.00M285.00 91.73H289.00M287.56 91.28V91.98M285.56 91.28H289.56M285.56 91.98H289.56M288.11 91.54V92.24M286.11 91.54H290.11M286.11 92.24H290.11M288.66 91.80V92.50M286.66 91.80H290.66M286.66 92.50H290.66M289.20 92.06V92.76M287.20 92.06H291.20M287.20 92.76H291.20M289.73 92.32V93.02M287.73 92.32H291.73M287.73 93.02H291.73M290.26 92.58V93.28M288.26 92.58H292.26M288.26 93.28H292.26M290.78 92.86V93.56M288.78 92.86H292.78M288.78 93.56H292.78M291.30 93.14V93.84M289.30 93.14H293.30M289.30 93.84H293.30M291.82 93.44V94.14M289.82 93.44H293.82M289.82 94.14H293.82M292.33 93.75V94.45M290.33 93.75H294.33M290.33 94.45H294.33M292.83 94.07V94.77M290.83 94.07H294.83M290.83 94.77H294.83M293.33 94.39V95.09M291.33 94.39H295.33M291.33 95.09H295.33M293.82 94.72V95.42M291.82 94.72H295.82M291.82 95.42H295.82M294.31 95.06V95.76M292.31 95.06H296.31M292.31 95.76H296.31M294.80 95.40V96.10M292.80 95.40H296.80M292.80 96.10H296.80M295.28 95.75V96.45M293.28 95.75H297.28M293.28 96.45H297.28M295.76 96.10V96.80M293.76 96.10H297.76M293.76 96.80H297.76M296.23 96.45V97.15M294.23 96.45H298.23M294.23 97.15H298.23M296.70 96.81V97.51M294.70 96.81H298.70M294.70 97.51H298.70M297.16 97.16V97.86M295.16 97.16H299.16M295.16 97.86H299.16M297.62 97.52V98.22M295.62 97.52H299.62M295.62 98.22H299.62M298.08 97.88V98.58M296.08 97.88H300.08M296.08 98.58H300.08M298.53 98.23V98.93M296.53 98.23H300.53M296.53 98.93H300.53M298.98 98.59V99.29M296.98 98.59H300.98M296.98 99.29H300.98M299.43 98.95V99.65M297.43 98.95H301.43M297.43 99.65H301.43M299.87 99.30V100.00M297.87 99.30H301.87M297.87 100.00H301.87M300.30 99.65V100.35M298.30 99.65H302.30M298.30 100.35H302.30M300.74 100.00V100.70M298.74 100.00H302.74M298.74 100.70H302.74M301.17 100.35V101.05M299.17 100.35H303.17M299.17 101.05H303.17M301.60 100.70V101.40M299.60 100.70H303.60M299.60 101.40H303.60M302.02 101.06V101.76M300.02 101.06H304.02M300.02 101.76H304.02M302.44 101.41V102.11M300.44 101.41H304.44M300.44 102.11H304.44M302.86 101.77V102.47M300.86 101.77H304.86M300.86 102.47H304.86M303.27 102.13V102.83M301.27 102.13H305.27M301.27 102.83H305.27M303.68 102.49V103.19M301.68 102.49H305.68M301.68 103.19H305.68M304.09 102.87V103.57M302.09 102.87H306.09M302.09 103.57H306.09M304.49 103.24V103.94M302.49 103.24H306.49M302.49 103.94H306.49M304.89 103.63V104.33M302.89 103.63H306.89M302.89 104.33H306.89M305.29 104.02V104.72M303.29 104.02H307.29M303.29 104.72H307.29M305.69 104.41V105.11M303.69 104.41H307.69M303.69 105.11H307.69M306.08 104.82V105.52M304.08 104.82H308.08M304.08 105.52H308.08M306.47 105.24V105.94M304.47 105.24H308.47M304.47 105.94H308.47M306.86 105.66V106.36M304.86 105.66H308.86M304.86 106.36H308.86M307.24 106.10V106.80M305.24 106.10H309.24M305.24 106.80H309.24M307.62 106.55V107.25M305.62 106.55H309.62M305.62 107.25H309.62M308.00 107.02V107.72M306.00 107.02H310.00M306.00 107.72H310.00M308.38 107.50V108.20M306.38 107.50H310.38M306.38 108.20H310.38M308.75 108.00V108.70M306.75 108.00H310.75M306.75 108.70H310.75M309.12 108.52V109.22M307.12 108.52H311.12M307.12 109.22H311.12M309.49 109.04V109.74M307.49 109.04H311.49M307.49 109.74H311.49M309.85 109.58V110.28M307.85 109.58H311.85M307.85 110.28H311.85M310.22 110.12V110.82M308.22 110.12H312.22M308.22 110.82H312.22M310.58 110.68V111.38M308.58 110.68H312.58M308.58 111.38H312.58M310.93 111.24V111.94M308.93 111.24H312.93M308.93 111.94H312.93M311.29 111.80V112.50M309.29 111.80H313.29M309.29 112.50H313.29M311.64 112.37V113.07M309.64 112.37H313.64M309.64 113.07H313.64M311.99 112.94V113.64M309.99 112.94H313.99M309.99 113.64H313.99M312.34 113.51V114.21M310.34 113.51H314.34M310.34 114.21H314.34M312.69 114.09V114.79M310.69 114.09H314.69M310.69 114.79H314.69M313.03 114.66V115.36M311.03 114.66H315.03M311.03 115.36H315.03M313.37 115.23V115.93M311.37 115.23H315.37M311.37 115.93H315.37M313.71 115.80V116.50M311.71 115.80H315.71M311.71 116.50H315.71M314.05 116.36V117.06M312.05 116.36H316.05M312.05 117.06H316.05M314.39 116.92V117.62M312.39 116.92H316.39M312.39 117.62H316.39M314.72 117.47V118.17M312.72 117.47H316.72M312.72 118.17H316.72M315.05 118.02V118.72M313.05 118.02H317.05M313.05 118.72H317.05M315.38 118.56V119.26M313.38 118.56H317.38M313.38 119.26H317.38M315.71 119.10V119.80M313.71 119.10H317.71M313.71 119.80H317.71M316.03 119.62V120.32M314.03 119.62H318.03M314.03 120.32H318.03M316.36 120.14V120.84M314.36 120.14H318.36M314.36 120.84H318.36M316.68 120.64V121.34M314.68 120.64H318.68M314.68 121.34H318.68M317.00 121.14V121.84M315.00 121.14H319.00M315.00 121.84H319.00M317.31 121.63V122.33M315.31 121.63H319.31M315.31 122.33H319.31M317.63 122.11V122.81M315.63 122.11H319.63M315.63 122.81H319.63M317.94 122.59V123.29M315.94 122.59H319.94M315.94 123.29H319.94M318.26 123.07V123.77M316.26 123.07H320.26M316.26 123.77H320.26M318.57 123.55V124.25M316.57 123.55H320.57M316.57 124.25H320.57M318.87 124.03V124.73M316.87 124.03H320.87M316.87 124.73H320.87M319.18 124.52V125.22M317.18 124.52H321.18M317.18 125.22H321.18" fill="none" stroke="#0000ff" stroke-width="0.4" stroke-opacity="0.8"/>
<path d="M323.86 134.13V134.65M321.66 134.13H326.06M321.66 134.65H326.06M324.14 135.03V135.57M321.94 135.03H326.34M321.94 135.57H326.34M324.41 135.75V136.31M322.21 135.75H326.61M322.21 136.31H326.61M324.69 136.39V136.95M322.49 136.39H326.89M322.49 136.95H326.89M324.96 137.12V137.70M322.76 137.12H327.16M322.76 137.70H327.16M325.24 137.65V138.27M323.04 137.65H327.44M323.04 138.27H327.44M325.51 138.20V138.84M323.31 138.20H327.71M323.31 138.84H327.71M325.78 139.51V140.16M323.58 139.51H327.98M323.58 140.16H327.98M326.05 139.45V140.14M323.85 139.45H328.25M323.85 140.14H328.25M326.32 141.01V141.74M324.12 141.01H328.52M324.12 141.74H328.52M326.58 142.34V143.10M324.38 142.34H328.78M324.38 143.10H328.78M326.85 142.61V143.37M324.65 142.61H329.05M324.65 143.37H329.05M327.11 144.10V144.91M324.91 144.10H329.31M324.91 144.91H329.31M327.38 144.32V145.14M325.18 144.32H329.58M325.18 145.14H329.58M327.64 145.18V146.03M325.44 145.18H329.84M325.44 146.03H329.84M327.90 145.52V146.41M325.70 145.52H330.10M325.70 146.41H330.10M328.16 147.19V148.14M325.96 147.19H330.36M325.96 148.14H330.36M328.41 145.93V146.87M326.21 145.93H330.61M326.21 146.87H330.61M328.67 148.39V149.39M326.47 148.39H330.87M326.47 149.39H330.87M328.92 148.23V149.26M326.72 148.23H331.12M326.72 149.26H331.12M329.18 150.60V151.71M326.98 150.60H331.38M326.98 151.71H331.38M329.43 149.79V150.89M327.23 149.79H331.63M327.23 150.89H331.63M329.68 152.63V153.86M327.48 152.63H331.88M327.48 153.86H331.88M329.93 151.00V152.18M327.73 151.00H332.13M327.73 152.18H332.13M330.18 152.00V153.22M327.98 152.00H332.38M327.98 153.22H332.38M330.43 153.62V154.99M328.23 153.62H332.63M328.23 154.99H332.63M330.68 152.88V154.12M328.48 152.88H332.88M328.48 154.12H332.88M330.92 155.69V157.13M328.72 155.69H333.12M328.72 157.13H333.12M331.17 153.64V155.01M328.97 153.64H333.37M328.97 155.01H333.37M331.41 155.63V157.06M329.21 155.63H333.61M329.21 157.06H333.61M331.65 158.34V159.96M329.45 158.34H333.85M329.45 159.96H333.85M331.89 157.45V159.01M329.69 157.45H334.09M329.69 159.01H334.09M332.13 159.28V161.03M329.93 159.28H334.33M329.93 161.03H334.33M332.37 158.71V160.35M330.17 158.71H334.57M330.17 160.35H334.57M332.61 159.68V161.50M330.41 159.68H334.81M330.41 161.50H334.81M332.85 159.69V161.50M330.65 159.69H335.05M330.65 161.50H335.05M333.08 159.64V161.48M330.88 159.64H335.28M330.88 161.48H335.28M333.32 163.62V165.71M331.12 163.62H335.52M331.12 165.71H335.52M333.55 163.24V165.37M331.35 163.24H335.75M331.35 165.37H335.75M333.78 164.00V166.14M331.58 164.00H335.98M331.58 166.14H335.98M334.01 163.60V165.82M331.81 163.60H336.21M331.81 165.82H336.21M334.25 165.79V168.15M332.05 165.79H336.45M332.05 168.15H336.45M334.48 163.60V165.85M332.28 163.60H336.68M332.28 165.85H336.68M334.70 165.56V167.94M332.50 165.56H336.90M332.50 167.94H336.90M334.93 166.16V168.72M332.73 166.16H337.13M332.73 168.72H337.13M335.16 168.57V171.23M332.96 168.57H337.36M332.96 171.23H337.36M335.38 167.70V170.48M333.18 167.70H337.58M333.18 170.48H337.58M335.61 168.27V171.10M333.41 168.27H337.81M333.41 171.10H337.81M335.83 170.24V173.23M333.63 170.24H338.03M333.63 173.23H338.03M336.06 170.12V173.08M333.86 170.12H338.26M333.86 173.08H338.26M336.28 173.71V177.19M334.08 173.71H338.48M334.08 177.19H338.48M336.50 173.18V176.80M334.30 173.18H338.70M334.30 176.80H338.70M336.72 171.38V174.76M334.52 171.38H338.92M334.52 174.76H338.92M336.94 173.70V177.22M334.74 173.70H339.14M334.74 177.22H339.14M337.16 172.94V176.33M334.96 172.94H339.36M334.96 176.33H339.36M337.37 175.19V179.11M335.17 175.19H339.57M335.17 179.11H339.57M337.59 175.04V179.10M335.39 175.04H339.79M335.39 179.10H339.79M337.81 177.27V181.78M335.61 177.27H340.01M335.61 181.78H340.01M338.02 176.90V181.31M335.82 176.90H340.22M335.82 181.31H340.22M338.24 180.62V185.74M336.04 180.62H340.44M336.04 185.74H340.44M338.45 177.31V181.72M336.25 177.31H340.65M336.25 181.72H340.65M338.66 177.36V181.87M336.46 177.36H340.86M336.46 181.87H340.86M338.87 180.84V185.97M336.67 180.84H341.07M336.67 185.97H341.07M339.08 179.80V185.09M336.88 179.80H341.28M336.88 185.09H341.28M339.29 180.53V185.38M337.09 180.53H341.49M337.09 185.38H341.49M339.50 182.17V187.63M337.30 182.17H341.70M337.30 187.63H341.70M339.71 181.98V188.08M337.51 181.98H341.91M337.51 188.08H341.91M339.92 186.25V192.62M337.72 186.25H342.12M337.72 192.62H342.12M340.12 185.74V192.78M337.92 185.74H342.32M337.92 192.78H342.32M340.33 183.72V189.83M338.13 183.72H342.53M338.13 189.83H342.53M340.53 189.02V197.01M338.33 189.02H342.73M338.33 197.01H342.73M340.74 184.15V191.20M338.54 184.15H342.94M338.54 191.20H342.94M341.14 189.61V197.60M338.94 189.61H343.34M338.94 197.60H343.34M341.35 192.22V200.85M339.15 192.22H343.55M339.15 200.85H343.55M341.75 188.61V196.60M339.55 188.61H343.95M339.55 196.60H343.95M341.95 190.99V201.56M339.75 190.99H344.15M339.75 201.56H344.15M342.54 195.15V205.72M340.34 195.15H344.74M340.34 205.72H344.74M345.41 193.60V204.17M343.21 193.60H347.61M343.21 204.17H347.61" fill="none" stroke="#0000ff" stroke-width="0.35" stroke-opacity="0.75" stroke-dasharray="1.4 1.1"/>
<path d="M79.25 77.35H82.55V80.65H79.25ZM94.55 72.30H97.85V75.60H94.55ZM106.41 69.90H109.71V73.20H106.41ZM116.10 68.69H119.40V71.99H116.10ZM124.30 68.07H127.60V71.37H124.30ZM131.40 67.75H134.70V71.05H131.40ZM137.66 67.85H140.96V71.15H137.66ZM143.26 68.23H146.56V71.53H143.26ZM148.33 68.90H151.63V72.20H148.33ZM152.95 69.51H156.25V72.81H152.95ZM157.21 70.20H160.51V73.50H157.21ZM161.15 70.94H164.45V74.24H161.15ZM164.82 71.66H168.12V74.96H164.82ZM168.25 72.33H171.55V75.63H168.25ZM171.47 72.96H174.77V76.26H171.47ZM174.51 73.58H177.81V76.88H174.51ZM177.39 74.16H180.69V77.46H177.39ZM180.11 74.71H183.41V78.01H180.11ZM182.71 75.23H186.01V78.53H182.71ZM185.18 75.71H188.48V79.01H185.18ZM187.54 76.18H190.84V79.48H187.54ZM189.81 76.62H193.11V79.92H189.81ZM191.98 77.04H195.28V80.34H191.98ZM194.06 77.43H197.36V80.73H194.06ZM196.07 77.78H199.37V81.08H196.07ZM198.00 78.10H201.30V81.40H198.00ZM199.87 78.37H203.17V81.67H199.87ZM201.67 78.60H204.97V81.90H201.67ZM203.41 78.82H206.71V82.12H203.41ZM205.10 79.02H208.40V82.32H205.10ZM206.74 79.23H210.04V82.53H206.74ZM208.33 79.45H211.63V82.75H208.33ZM209.87 79.67H213.17V82.97H209.87ZM211.36 79.90H214.66V83.20H211.36ZM212.82 80.13H216.12V83.43H212.82ZM214.24 80.36H217.54V83.66H214.24ZM215.62 80.59H218.92V83.89H215.62ZM216.97 80.82H220.27V84.12H216.97ZM218.28 81.04H221.58V84.34H218.28ZM219.56 81.26H222.86V84.56H219.56ZM220.81 81.48H224.11V84.78H220.81ZM222.03 81.69H225.33V84.99H222.03ZM223.23 81.89H226.53V85.19H223.23ZM224.40 82.09H227.70V85.39H224.40ZM225.54 82.28H228.84V85.58H225.54ZM226.66 82.47H229.96V85.77H226.66ZM227.76 82.65H231.06V85.95H227.76ZM228.83 82.83H232.13V86.13H228.83ZM229.88 83.00H233.18V86.30H229.88ZM230.91 83.18H234.21V86.48H230.91ZM231.93 83.35H235.23V86.65H231.93ZM232.92 83.51H236.22V86.81H232.92ZM233.90 83.68H237.20V86.98H233.90ZM234.85 83.83H238.15V87.13H234.85ZM235.80 83.98H239.10V87.28H235.80ZM236.72 84.12H240.02V87.42H236.72ZM237.63 84.25H240.93V87.55H237.63ZM238.52 84.37H241.82V87.67H238.52ZM239.40 84.49H242.70V87.79H239.40ZM240.27 84.59H243.57V87.89H240.27ZM241.12 84.70H244.42V88.00H241.12ZM241.95 84.80H245.25V88.10H241.95ZM242.78 84.89H246.08V88.19H242.78ZM243.59 84.98H246.89V88.28H243.59ZM244.39 85.06H247.69V88.36H244.39ZM245.18 85.15H248.48V88.45H245.18ZM245.95 85.23H249.25V88.53H245.95ZM246.72 85.31H250.02V88.61H246.72ZM247.47 85.38H250.77V88.68H247.47ZM248.22 85.46H251.52V88.76H248.22ZM248.95 85.53H252.25V88.83H248.95ZM249.67 85.61H252.97V88.91H249.67ZM250.39 85.68H253.69V88.98H250.39ZM251.09 85.75H254.39V89.05H251.09ZM251.79 85.82H255.09V89.12H251.79ZM252.47 85.89H255.77V89.19H252.47ZM253.15 85.96H256.45V89.26H253.15ZM253.82 86.03H257.12V89.33H253.82ZM254.48 86.10H257.78V89.40H254.48ZM255.13 86.17H258.43V89.47H255.13ZM255.78 86.25H259.08V89.55H255.78ZM256.41 86.32H259.71V89.62H256.41ZM257.04 86.39H260.34V89.69H257.04ZM257.66 86.47H260.96V89.77H257.66ZM258.28 86.54H261.58V89.84H258.28ZM258.89 86.62H262.19V89.92H258.89ZM259.49 86.69H262.79V89.99H259.49ZM260.08 86.76H263.38V90.06H260.08ZM260.67 86.83H263.97V90.13H260.67ZM261.25 86.91H264.55V90.21H261.25ZM261.82 86.98H265.12V90.28H261.82ZM262.39 87.05H265.69V90.35H262.39ZM262.95 87.12H266.25V90.42H262.95ZM263.51 87.18H266.81V90.48H263.51ZM264.06 87.25H267.36V90.55H264.06ZM264.61 87.32H267.91V90.62H264.61ZM265.15 87.39H268.45V90.69H265.15ZM265.68 87.46H268.98V90.76H265.68ZM266.21 87.53H269.51V90.83H266.21ZM266.73 87.60H270.03V90.90H266.73ZM267.25 87.68H270.55V90.98H267.25ZM267.77 87.75H271.07V91.05H267.77ZM268.28 87.82H271.58V91.12H268.28ZM268.78 87.90H272.08V91.20H268.78ZM269.28 87.97H272.58V91.27H269.28ZM269.77 88.05H273.07V91.35H269.77ZM270.26 88.12H273.56V91.42H270.26ZM270.75 88.20H274.05V91.50H270.75ZM271.23 88.28H274.53V91.58H271.23ZM271.71 88.36H275.01V91.66H271.71ZM272.18 88.44H275.48V91.74H272.18ZM272.65 88.52H275.95V91.82H272.65ZM273.11 88.61H276.41V91.91H273.11ZM273.57 88.69H276.87V91.99H273.57ZM274.03 88.78H277.33V92.08H274.03ZM274.48 88.88H277.78V92.18H274.48ZM274.93 88.98H278.23V92.28H274.93ZM275.38 89.08H278.68V92.38H275.38ZM275.82 89.18H279.12V92.48H275.82ZM276.25 89.29H279.55V92.59H276.25ZM276.69 89.40H279.99V92.70H276.69ZM277.12 89.51H280.42V92.81H277.12ZM277.55 89.63H280.85V92.93H277.55ZM277.97 89.74H281.27V93.04H277.97ZM278.39 89.86H281.69V93.16H278.39ZM278.81 89.98H282.11V93.28H278.81ZM279.22 90.10H282.52V93.40H279.22ZM279.63 90.22H282.93V93.52H279.63ZM280.04 90.34H283.34V93.64H280.04ZM280.44 90.46H283.74V93.76H280.44ZM280.84 90.58H284.14V93.88H280.84ZM281.24 90.70H284.54V94.00H281.24ZM281.64 90.83H284.94V94.13H281.64ZM282.03 90.95H285.33V94.25H282.03ZM282.42 91.08H285.72V94.38H282.42ZM282.81 91.21H286.11V94.51H282.81ZM283.19 91.34H286.49V94.64H283.19ZM283.57 91.47H286.87V94.77H283.57ZM283.95 91.60H287.25V94.90H283.95ZM284.33 91.73H287.63V95.03H284.33ZM284.70 91.87H288.00V95.17H284.70ZM285.07 92.01H288.37V95.31H285.07ZM285.44 92.15H288.74V95.45H285.44ZM285.80 92.29H289.10V95.59H285.80ZM286.17 92.43H289.47V95.73H286.17ZM286.53 92.57H289.83V95.87H286.53ZM286.88 92.72H290.18V96.02H286.88ZM287.24 92.87H290.54V96.17H287.24ZM287.59 93.02H290.89V96.32H287.59ZM287.94 93.17H291.24V96.47H287.94ZM288.29 93.32H291.59V96.62H288.29ZM288.64 93.48H291.94V96.78H288.64ZM288.98 93.64H292.28V96.94H288.98ZM289.32 93.80H292.62V97.10H289.32ZM289.66 93.97H292.96V97.27H289.66ZM290.00 94.14H293.30V97.44H290.00ZM290.34 94.32H293.64V97.62H290.34ZM290.67 94.49H293.97V97.79H290.67ZM291.00 94.67H294.30V97.97H291.00ZM291.33 94.86H294.63V98.16H291.33ZM291.66 95.04H294.96V98.34H291.66ZM291.98 95.23H295.28V98.53H291.98ZM292.31 95.42H295.61V98.72H292.31ZM292.63 95.61H295.93V98.91H292.63ZM292.95 95.81H296.25V99.11H292.95ZM293.26 96.00H296.56V99.30H293.26ZM293.58 96.20H296.88V99.50H293.58ZM293.89 96.40H297.19V99.70H293.89ZM294.21 96.60H297.51V99.90H294.21ZM294.52 96.80H297.82V100.10H294.52ZM294.82 97.01H298.12V100.31H294.82ZM295.13 97.21H298.43V100.51H295.13ZM295.43 97.42H298.73V100.72H295.43ZM295.74 97.63H299.04V100.93H295.74ZM296.04 97.84H299.34V101.14H296.04ZM296.34 98.05H299.64V101.35H296.34ZM296.64 98.26H299.94V101.56H296.64ZM296.93 98.47H300.23V101.77H296.93ZM297.23 98.68H300.53V101.98H297.23ZM297.52 98.89H300.82V102.19H297.52ZM297.81 99.10H301.11V102.40H297.81ZM298.10 99.32H301.40V102.62H298.10ZM298.39 99.53H301.69V102.83H298.39ZM298.68 99.74H301.98V103.04H298.68ZM298.96 99.96H302.26V103.26H298.96ZM299.24 100.18H302.54V103.48H299.24ZM299.53 100.40H302.83V103.70H299.53ZM299.81 100.62H303.11V103.92H299.81ZM300.09 100.85H303.39V104.15H300.09ZM300.36 101.08H303.66V104.38H300.36ZM300.64 101.31H303.94V104.61H300.64ZM300.91 101.54H304.21V104.84H300.91ZM301.19 101.77H304.49V105.07H301.19ZM301.46 102.01H304.76V105.31H301.46ZM301.73 102.25H305.03V105.55H301.73ZM302.00 102.49H305.30V105.79H302.00ZM302.27 102.74H305.57V106.04H302.27ZM302.53 102.99H305.83V106.29H302.53ZM302.80 103.24H306.10V106.54H302.80ZM303.06 103.49H306.36V106.79H303.06ZM303.33 103.75H306.63V107.05H303.33ZM303.59 104.00H306.89V107.30H303.59ZM303.85 104.26H307.15V107.56H303.85ZM304.11 104.53H307.41V107.83H304.11ZM304.36 104.79H307.66V108.09H304.36ZM304.62 105.06H307.92V108.36H304.62ZM304.87 105.33H308.17V108.63H304.87ZM305.13 105.61H308.43V108.91H305.13ZM305.38 105.88H308.68V109.18H305.38ZM305.63 106.17H308.93V109.47H305.63ZM305.88 106.45H309.18V109.75H305.88ZM306.13 106.74H309.43V110.04H306.13ZM306.38 107.04H309.68V110.34H306.38ZM306.63 107.34H309.93V110.64H306.63ZM306.87 107.65H310.17V110.95H306.87ZM307.12 107.96H310.42V111.26H307.12ZM307.36 108.27H310.66V111.57H307.36ZM307.60 108.59H310.90V111.89H307.60ZM307.84 108.91H311.14V112.21H307.84ZM308.08 109.23H311.38V112.53H308.08ZM308.32 109.56H311.62V112.86H308.32ZM308.56 109.88H311.86V113.18H308.56ZM308.80 110.22H312.10V113.52H308.80ZM309.03 110.55H312.33V113.85H309.03ZM309.27 110.89H312.57V114.19H309.27ZM309.50 111.22H312.80V114.52H309.50ZM309.73 111.56H313.03V114.86H309.73ZM309.96 111.90H313.26V115.20H309.96ZM310.20 112.24H313.50V115.54H310.20ZM310.43 112.59H313.73V115.89H310.43ZM310.65 112.93H313.95V116.23H310.65ZM310.88 113.27H314.18V116.57H310.88ZM311.11 113.62H314.41V116.92H311.11ZM311.33 113.96H314.63V117.26H311.33ZM311.56 114.31H314.86V117.61H311.56ZM311.78 114.65H315.08V117.95H311.78ZM312.01 115.00H315.31V118.30H312.01ZM312.23 115.34H315.53V118.64H312.23ZM312.45 115.69H315.75V118.99H312.45ZM312.67 116.03H315.97V119.33H312.67ZM312.89 116.37H316.19V119.67H312.89ZM313.11 116.71H316.41V120.01H313.11ZM313.32 117.05H316.62V120.35H313.32ZM313.54 117.39H316.84V120.69H313.54ZM313.76 117.73H317.06V121.03H313.76ZM313.97 118.07H317.27V121.37H313.97ZM314.19 118.40H317.49V121.70H314.19ZM314.40 118.74H317.70V122.04H314.40ZM314.61 119.07H317.91V122.37H314.61ZM314.82 119.40H318.12V122.70H314.82ZM315.03 119.72H318.33V123.02H315.03ZM315.24 120.05H318.54V123.35H315.24ZM315.45 120.37H318.75V123.67H315.45ZM315.66 120.70H318.96V124.00H315.66ZM315.87 121.02H319.17V124.32H315.87ZM316.07 121.35H319.37V124.65H316.07ZM316.28 121.67H319.58V124.97H316.28ZM316.48 122.00H319.78V125.30H316.48ZM316.69 122.33H319.99V125.63H316.69ZM316.89 122.66H320.19V125.96H316.89ZM317.09 122.99H320.39V126.29H317.09ZM317.30 123.33H320.60V126.63H317.30Z" fill="#ff00ff" fill-opacity="0.06" stroke="#ff00ff" stroke-width="0.65"/>
<path d="M317.50 124.32H320.80V127.62H317.50ZM317.70 123.57H321.00V126.87H317.70ZM317.90 123.79H321.20V127.09H317.90ZM318.09 125.49H321.39V128.79H318.09ZM318.29 125.55H321.59V128.85H318.29ZM318.49 124.54H321.79V127.84H318.49ZM318.69 126.11H321.99V129.41H318.69ZM318.88 126.91H322.18V130.21H318.88ZM319.08 126.01H322.38V129.31H319.08ZM319.27 127.13H322.57V130.43H319.27ZM319.47 127.23H322.77V130.53H319.47ZM319.66 127.15H322.96V130.45H319.66ZM319.85 128.51H323.15V131.81H319.85ZM320.04 128.91H323.34V132.21H320.04ZM320.23 128.88H323.53V132.18H320.23ZM320.42 129.13H323.72V132.43H320.42ZM320.61 130.00H323.91V133.30H320.61ZM320.80 130.22H324.10V133.52H320.80ZM320.99 131.44H324.29V134.74H320.99ZM321.18 130.31H324.48V133.61H321.18ZM321.36 132.04H324.66V135.34H321.36ZM321.55 132.03H324.85V135.33H321.55ZM321.74 132.66H325.04V135.96H321.74ZM321.92 133.57H325.22V136.87H321.92ZM322.11 134.68H325.41V137.98H322.11ZM322.29 134.80H325.59V138.10H322.29ZM322.47 134.82H325.77V138.12H322.47ZM322.65 134.25H325.95V137.55H322.65ZM322.84 135.73H326.14V139.03H322.84ZM323.02 136.53H326.32V139.83H323.02ZM323.20 136.45H326.50V139.75H323.20ZM323.38 138.21H326.68V141.51H323.38ZM323.56 138.90H326.86V142.20H323.56ZM323.74 137.53H327.04V140.83H323.74ZM323.91 139.45H327.21V142.75H323.91ZM324.09 140.08H327.39V143.38H324.09ZM324.27 140.71H327.57V144.01H324.27ZM324.44 141.92H327.74V145.22H324.44ZM324.62 141.27H327.92V144.57H324.62ZM324.80 141.05H328.10V144.35H324.80ZM324.97 142.23H328.27V145.53H324.97ZM325.14 143.41H328.44V146.71H325.14ZM325.32 142.86H328.62V146.16H325.32ZM325.49 145.12H328.79V148.42H325.49ZM325.66 146.04H328.96V149.34H325.66ZM325.83 145.38H329.13V148.68H325.83ZM326.01 145.22H329.31V148.52H326.01ZM326.18 147.11H329.48V150.41H326.18ZM326.35 147.99H329.65V151.29H326.35ZM326.52 146.41H329.82V149.71H326.52ZM326.69 148.68H329.99V151.98H326.69ZM326.85 147.92H330.15V151.22H326.85ZM327.02 149.33H330.32V152.63H327.02ZM327.19 149.91H330.49V153.21H327.19ZM327.36 149.36H330.66V152.66H327.36ZM327.52 151.11H330.82V154.41H327.52ZM327.69 151.50H330.99V154.80H327.69ZM327.85 153.08H331.15V156.38H327.85ZM328.02 153.50H331.32V156.80H328.02ZM328.18 153.15H331.48V156.45H328.18ZM328.35 152.71H331.65V156.01H328.35ZM328.51 154.71H331.81V158.01H328.51ZM328.67 154.95H331.97V158.25H328.67ZM328.84 155.19H332.14V158.49H328.84ZM329.00 154.42H332.30V157.72H329.00ZM329.16 157.16H332.46V160.46H329.16ZM329.32 158.05H332.62V161.35H329.32ZM329.48 156.58H332.78V159.88H329.48ZM329.64 160.06H332.94V163.36H329.64ZM329.80 158.20H333.10V161.50H329.80ZM329.96 160.07H333.26V163.37H329.96ZM330.12 161.35H333.42V164.65H330.12ZM330.27 161.53H333.57V164.83H330.27ZM330.43 162.47H333.73V165.77H330.43ZM330.59 162.73H333.89V166.03H330.59ZM330.75 163.15H334.05V166.45H330.75ZM330.90 163.73H334.20V167.03H330.90ZM331.06 163.90H334.36V167.20H331.06ZM331.21 166.51H334.51V169.81H331.21ZM331.37 165.45H334.67V168.75H331.37ZM331.52 165.93H334.82V169.23H331.52ZM331.68 167.44H334.98V170.74H331.68ZM331.83 168.51H335.13V171.81H331.83ZM331.98 167.81H335.28V171.11H331.98ZM332.14 170.20H335.44V173.50H332.14ZM332.29 171.12H335.59V174.42H332.29ZM332.44 167.54H335.74V170.84H332.44ZM332.59 169.10H335.89V172.40H332.59ZM332.74 171.63H336.04V174.93H332.74ZM332.89 172.75H336.19V176.05H332.89ZM333.04 175.18H336.34V178.48H333.04ZM333.19 177.63H336.49V180.93H333.19ZM333.34 173.43H336.64V176.73H333.34ZM333.49 177.22H336.79V180.52H333.49ZM333.64 179.70H336.94V183.00H333.64ZM333.78 178.76H337.08V182.06H333.78ZM333.93 178.11H337.23V181.41H333.93ZM334.08 181.07H337.38V184.37H334.08ZM334.23 180.64H337.53V183.94H334.23ZM334.37 178.83H337.67V182.13H334.37ZM334.52 180.62H337.82V183.92H334.52ZM334.66 185.24H337.96V188.54H334.66ZM334.81 180.46H338.11V183.76H334.81ZM334.95 190.29H338.25V193.59H334.95ZM335.10 187.06H338.40V190.36H335.10ZM335.24 188.04H338.54V191.34H335.24ZM335.39 181.33H338.69V184.63H335.39ZM335.53 192.97H338.83V196.27H335.53ZM335.67 184.89H338.97V188.19H335.67ZM335.81 197.38H339.11V200.68H335.81ZM335.96 192.27H339.26V195.57H335.96ZM336.10 191.40H339.40V194.70H336.10ZM336.24 196.48H339.54V199.78H336.24ZM336.38 201.42H339.68V204.72H336.38ZM336.52 204.66H339.82V207.96H336.52ZM336.66 203.90H339.96V207.20H336.66ZM336.80 200.98H340.10V204.28H336.80ZM336.94 204.89H340.24V208.19H336.94ZM337.08 191.80H340.38V195.10H337.08ZM337.22 196.55H340.52V199.85H337.22ZM337.35 198.19H340.65V201.49H337.35ZM337.49 199.54H340.79V202.84H337.49ZM337.63 192.64H340.93V195.94H337.63ZM337.77 204.55H341.07V207.85H337.77ZM337.90 205.95H341.20V209.25H337.90ZM338.04 202.51H341.34V205.81H338.04ZM338.43 211.50H341.23V214.30H338.43ZM338.31 205.06H341.61V208.36H338.31ZM338.45 202.98H341.75V206.28H338.45ZM338.58 202.73H341.88V206.03H338.58ZM338.97 211.50H341.77V214.30H338.97ZM339.24 211.50H342.04V214.30H339.24ZM339.37 211.50H342.17V214.30H339.37ZM339.50 211.50H342.30V214.30H339.50ZM339.64 211.50H342.44V214.30H339.64ZM339.90 211.50H342.70V214.30H339.90ZM340.03 211.50H342.83V214.30H340.03ZM340.30 211.50H343.10V214.30H340.30ZM340.43 211.50H343.23V214.30H340.43ZM340.95 211.50H343.75V214.30H340.95ZM341.21 211.50H344.01V214.30H341.21ZM341.34 211.50H344.14V214.30H341.34ZM341.47 211.50H344.27V214.30H341.47ZM341.85 211.50H344.65V214.30H341.85ZM342.10 211.50H344.90V214.30H342.10ZM342.36 211.50H345.16V214.30H342.36ZM342.48 211.50H345.28V214.30H342.48ZM342.61 211.50H345.41V214.30H342.61ZM342.86 211.50H345.66V214.30H342.86ZM343.11 211.50H345.91V214.30H343.11ZM343.23 211.50H346.03V214.30H343.23ZM343.36 211.50H346.16V214.30H343.36ZM343.73 211.50H346.53V214.30H343.73ZM343.97 211.50H346.77V214.30H343.97ZM344.34 211.50H347.14V214.30H344.34ZM344.46 211.50H347.26V214.30H344.46ZM344.82 211.50H347.62V214.30H344.82ZM344.95 211.50H347.75V214.30H344.95Z" fill="none" stroke="#ff00ff" stroke-width="0.5" stroke-opacity="0.8"/>
<path d="M80.90 78.65V79.35M78.90 78.65H82.90M78.90 79.35H82.90M96.20 73.60V74.30M94.20 73.60H98.20M94.20 74.30H98.20M108.06 71.20V71.90M106.06 71.20H110.06M106.06 71.90H110.06M117.75 69.99V70.69M115.75 69.99H119.75M115.75 70.69H119.75M125.95 69.37V70.07M123.95 69.37H127.95M123.95 70.07H127.95M133.05 69.05V69.75M131.05 69.05H135.05M131.05 69.75H135.05M139.31 69.15V69.85M137.31 69.15H141.31M137.31 69.85H141.31M144.91 69.53V70.23M142.91 69.53H146.91M142.91 70.23H146.91M149.98 70.20V70.90M147.98 70.20H151.98M147.98 70.90H151.98M154.60 70.81V71.51M152.60 70.81H156.60M152.60 71.51H156.60M158.86 71.50V72.20M156.86 71.50H160.86M156.86 72.20H160.86M162.80 72.24V72.94M160.80 72.24H164.80M160.80 72.94H164.80M166.47 72.96V73.66M164.47 72.96H168.47M164.47 73.66H168.47M169.90 73.63V74.33M167.90 73.63H171.90M167.90 74.33H171.90M173.12 74.26V74.96M171.12 74.26H175.12M171.12 74.96H175.12M176.16 74.88V75.58M174.16 74.88H178.16M174.16 75.58H178.16M179.04 75.46V76.16M177.04 75.46H181.04M177.04 76.16H181.04M181.76 76.01V76.71M179.76 76.01H183.76M179.76 76.71H183.76M184.36 76.53V77.23M182.36 76.53H186.36M182.36 77.23H186.36M186.83 77.01V77.71M184.83 77.01H188.83M184.83 77.71H188.83M189.19 77.48V78.18M187.19 77.48H191.19M187.19 78.18H191.19M191.46 77.92V78.62M189.46 77.92H193.46M189.46 78.62H193.46M193.63 78.34V79.04M191.63 78.34H195.63M191.63 79.04H195.63M195.71 78.73V79.43M193.71 78.73H197.71M193.71 79.43H197.71M197.72 79.08V79.78M195.72 79.08H199.72M195.72 79.78H199.72M199.65 79.40V80.10M197.65 79.40H201.65M197.65 80.10H201.65M201.52 79.67V80.37M199.52 79.67H203.52M199.52 80.37H203.52M203.32 79.90V80.60M201.32 79.90H205.32M201.32 80.60H205.32M205.06 80.12V80.82M203.06 80.12H207.06M203.06 80.82H207.06M206.75 80.32V81.02M204.75 80.32H208.75M204.75 81.02H208.75M208.39 80.53V81.23M206.39 80.53H210.39M206.39 81.23H210.39M209.98 80.75V81.45M207.98 80.75H211.98M207.98 81.45H211.98M211.52 80.97V81.67M209.52 80.97H213.52M209.52 81.67H213.52M213.01 81.20V81.90M211.01 81.20H215.01M211.01 81.90H215.01M214.47 81.43V82.13M212.47 81.43H216.47M212.47 82.13H216.47M215.89 81.66V82.36M213.89 81.66H217.89M213.89 82.36H217.89M217.27 81.89V82.59M215.27 81.89H219.27M215.27 82.59H219.27M218.62 82.12V82.82M216.62 82.12H220.62M216.62 82.82H220.62M219.93 82.34V83.04M217.93 82.34H221.93M217.93 83.04H221.93M221.21 82.56V83.26M219.21 82.56H223.21M219.21 83.26H223.21M222.46 82.78V83.48M220.46 82.78H224.46M220.46 83.48H224.46M223.68 82.99V83.69M221.68 82.99H225.68M221.68 83.69H225.68M224.88 83.19V83.89M222.88 83.19H226.88M222.88 83.89H226.88M226.05 83.39V84.09M224.05 83.39H228.05M224.05 84.09H228.05M227.19 83.58V84.28M225.19 83.58H229.19M225.19 84.28H229.19M228.31 83.77V84.47M226.31 83.77H230.31M226.31 84.47H230.31M229.41 83.95V84.65M227.41 83.95H231.41M227.41 84.65H231.41M230.48 84.13V84.83M228.48 84.13H232.48M228.48 84.83H232.48M231.53 84.30V85.00M229.53 84.30H233.53M229.53 85.00H233.53M232.56 84.48V85.18M230.56 84.48H234.56M230.56 85.18H234.56M233.58 84.65V85.35M231.58 84.65H235.58M231.58 85.35H235.58M234.57 84.81V85.51M232.57 84.81H236.57M232.57 85.51H236.57M235.55 84.98V85.68M233.55 84.98H237.55M233.55 85.68H237.55M236.50 85.13V85.83M234.50 85.13H238.50M234.50 85.83H238.50M237.45 85.28V85.98M235.45 85.28H239.45M235.45 85.98H239.45M238.37 85.42V86.12M236.37 85.42H240.37M236.37 86.12H240.37M239.28 85.55V86.25M237.28 85.55H241.28M237.28 86.25H241.28M240.17 85.67V86.37M238.17 85.67H242.17M238.17 86.37H242.17M241.05 85.79V86.49M239.05 85.79H243.05M239.05 86.49H243.05M241.92 85.89V86.59M239.92 85.89H243.92M239.92 86.59H243.92M242.77 86.00V86.70M240.77 86.00H244.77M240.77 86.70H244.77M243.60 86.10V86.80M241.60 86.10H245.60M241.60 86.80H245.60M244.43 86.19V86.89M242.43 86.19H246.43M242.43 86.89H246.43M245.24 86.28V86.98M243.24 86.28H247.24M243.24 86.98H247.24M246.04 86.36V87.06M244.04 86.36H248.04M244.04 87.06H248.04M246.83 86.45V87.15M244.83 86.45H248.83M244.83 87.15H248.83M247.60 86.53V87.23M245.60 86.53H249.60M245.60 87.23H249.60M248.37 86.61V87.31M246.37 86.61H250.37M246.37 87.31H250.37M249.12 86.68V87.38M247.12 86.68H251.12M247.12 87.38H251.12M249.87 86.76V87.46M247.87 86.76H251.87M247.87 87.46H251.87M250.60 86.83V87.53M248.60 86.83H252.60M248.60 87.53H252.60M251.32 86.91V87.61M249.32 86.91H253.32M249.32 87.61H253.32M252.04 86.98V87.68M250.04 86.98H254.04M250.04 87.68H254.04M252.74 87.05V87.75M250.74 87.05H254.74M250.74 87.75H254.74M253.44 87.12V87.82M251.44 87.12H255.44M251.44 87.82H255.44M254.12 87.19V87.89M252.12 87.19H256.12M252.12 87.89H256.12M254.80 87.26V87.96M252.80 87.26H256.80M252.80 87.96H256.80M255.47 87.33V88.03M253.47 87.33H257.47M253.47 88.03H257.47M256.13 87.40V88.10M254.13 87.40H258.13M254.13 88.10H258.13M256.78 87.47V88.17M254.78 87.47H258.78M254.78 88.17H258.78M257.43 87.55V88.25M255.43 87.55H259.43M255.43 88.25H259.43M258.06 87.62V88.32M256.06 87.62H260.06M256.06 88.32H260.06M258.69 87.69V88.39M256.69 87.69H260.69M256.69 88.39H260.69M259.31 87.77V88.47M257.31 87.77H261.31M257.31 88.47H261.31M259.93 87.84V88.54M257.93 87.84H261.93M257.93 88.54H261.93M260.54 87.92V88.62M258.54 87.92H262.54M258.54 88.62H262.54M261.14 87.99V88.69M259.14 87.99H263.14M259.14 88.69H263.14M261.73 88.06V88.76M259.73 88.06H263.73M259.73 88.76H263.73M262.32 88.13V88.83M260.32 88.13H264.32M260.32 88.83H264.32M262.90 88.21V88.91M260.90 88.21H264.90M260.90 88.91H264.90M263.47 88.28V88.98M261.47 88.28H265.47M261.47 88.98H265.47M264.04 88.35V89.05M262.04 88.35H266.04M262.04 89.05H266.04M264.60 88.42V89.12M262.60 88.42H266.60M262.60 89.12H266.60M265.16 88.48V89.18M263.16 88.48H267.16M263.16 89.18H267.16M265.71 88.55V89.25M263.71 88.55H267.71M263.71 89.25H267.71M266.26 88.62V89.32M264.26 88.62H268.26M264.26 89.32H268.26M266.80 88.69V89.39M264.80 88.69H268.80M264.80 89.39H268.80M267.33 88.76V89.46M265.33 88.76H269.33M265.33 89.46H269.33M267.86 88.83V89.53M265.86 88.83H269.86M265.86 89.53H269.86M268.38 88.90V89.60M266.38 88.90H270.38M266.38 89.60H270.38M268.90 88.98V89.68M266.90 88.98H270.90M266.90 89.68H270.90M269.42 89.05V89.75M267.42 89.05H271.42M267.42 89.75H271.42M269.93 89.12V89.82M267.93 89.12H271.93M267.93 89.82H271.93M270.43 89.20V89.90M268.43 89.20H272.43M268.43 89.90H272.43M270.93 89.27V89.97M268.93 89.27H272.93M268.93 89.97H272.93M271.42 89.35V90.05M269.42 89.35H273.42M269.42 90.05H273.42M271.91 89.42V90.12M269.91 89.42H273.91M269.91 90.12H273.91M272.40 89.50V90.20M270.40 89.50H274.40M270.40 90.20H274.40M272.88 89.58V90.28M270.88 89.58H274.88M270.88 90.28H274.88M273.36 89.66V90.36M271.36 89.66H275.36M271.36 90.36H275.36M273.83 89.74V90.44M271.83 89.74H275.83M271.83 90.44H275.83M274.30 89.82V90.52M272.30 89.82H276.30M272.30 90.52H276.30M274.76 89.91V90.61M272.76 89.91H276.76M272.76 90.61H276.76M275.22 89.99V90.69M273.22 89.99H277.22M273.22 90.69H277.22M275.68 90.08V90.78M273.68 90.08H277.68M273.68 90.78H277.68M276.13 90.18V90.88M274.13 90.18H278.13M274.13 90.88H278.13M276.58 90.28V90.98M274.58 90.28H278.58M274.58 90.98H278.58M277.03 90.38V91.08M275.03 90.38H279.03M275.03 91.08H279.03M277.47 90.48V91.18M275.47 90.48H279.47M275.47 91.18H279.47M277.90 90.59V91.29M275.90 90.59H279.90M275.90 91.29H279.90M278.34 90.70V91.40M276.34 90.70H280.34M276.34 91.40H280.34M278.77 90.81V91.51M276.77 90.81H280.77M276.77 91.51H280.77M279.20 90.93V91.63M277.20 90.93H281.20M277.20 91.63H281.20M279.62 91.04V91.74M277.62 91.04H281.62M277.62 91.74H281.62M280.04 91.16V91.86M278.04 91.16H282.04M278.04 91.86H282.04M280.46 91.28V91.98M278.46 91.28H282.46M278.46 91.98H282.46M280.87 91.40V92.10M278.87 91.40H282.87M278.87 92.10H282.87M281.28 91.52V92.22M279.28 91.52H283.28M279.28 92.22H283.28M281.69 91.64V92.34M279.69 91.64H283.69M279.69 92.34H283.69M282.09 91.76V92.46M280.09 91.76H284.09M280.09 92.46H284.09M282.49 91.88V92.58M280.49 91.88H284.49M280.49 92.58H284.49M282.89 92.00V92.70M280.89 92.00H284.89M280.89 92.70H284.89M283.29 92.13V92.83M281.29 92.13H285.29M281.29 92.83H285.29M283.68 92.25V92.95M281.68 92.25H285.68M281.68 92.95H285.68M284.07 92.38V93.08M282.07 92.38H286.07M282.07 93.08H286.07M284.46 92.51V93.21M282.46 92.51H286.46M282.46 93.21H286.46M284.84 92.64V93.34M282.84 92.64H286.84M282.84 93.34H286.84M285.22 92.77V93.47M283.22 92.77H287.22M283.22 93.47H287.22M285.60 92.90V93.60M283.60 92.90H287.60M283.60 93.60H287.60M285.98 93.03V93.73M283.98 93.03H287.98M283.98 93.73H287.98M286.35 93.17V93.87M284.35 93.17H288.35M284.35 93.87H288.35M286.72 93.31V94.01M284.72 93.31H288.72M284.72 94.01H288.72M287.09 93.45V94.15M285.09 93.45H289.09M285.09 94.15H289.09M287.45 93.59V94.29M285.45 93.59H289.45M285.45 94.29H289.45M287.82 93.73V94.43M285.82 93.73H289.82M285.82 94.43H289.82M288.18 93.87V94.57M286.18 93.87H290.18M286.18 94.57H290.18M288.53 94.02V94.72M286.53 94.02H290.53M286.53 94.72H290.53M288.89 94.17V94.87M286.89 94.17H290.89M286.89 94.87H290.89M289.24 94.32V95.02M287.24 94.32H291.24M287.24 95.02H291.24M289.59 94.47V95.17M287.59 94.47H291.59M287.59 95.17H291.59M289.94 94.62V95.32M287.94 94.62H291.94M287.94 95.32H291.94M290.29 94.78V95.48M288.29 94.78H292.29M288.29 95.48H292.29M290.63 94.94V95.64M288.63 94.94H292.63M288.63 95.64H292.63M290.97 95.10V95.80M288.97 95.10H292.97M288.97 95.80H292.97M291.31 95.27V95.97M289.31 95.27H293.31M289.31 95.97H293.31M291.65 95.44V96.14M289.65 95.44H293.65M289.65 96.14H293.65M291.99 95.62V96.32M289.99 95.62H293.99M289.99 96.32H293.99M292.32 95.79V96.49M290.32 95.79H294.32M290.32 96.49H294.32M292.65 95.97V96.67M290.65 95.97H294.65M290.65 96.67H294.65M292.98 96.16V96.86M290.98 96.16H294.98M290.98 96.86H294.98M293.31 96.34V97.04M291.31 96.34H295.31M291.31 97.04H295.31M293.63 96.53V97.23M291.63 96.53H295.63M291.63 97.23H295.63M293.96 96.72V97.42M291.96 96.72H295.96M291.96 97.42H295.96M294.28 96.91V97.61M292.28 96.91H296.28M292.28 97.61H296.28M294.60 97.11V97.81M292.60 97.11H296.60M292.60 97.81H296.60M294.91 97.30V98.00M292.91 97.30H296.91M292.91 98.00H296.91M295.23 97.50V98.20M293.23 97.50H297.23M293.23 98.20H297.23M295.54 97.70V98.40M293.54 97.70H297.54M293.54 98.40H297.54M295.86 97.90V98.60M293.86 97.90H297.86M293.86 98.60H297.86M296.17 98.10V98.80M294.17 98.10H298.17M294.17 98.80H298.17M296.47 98.31V99.01M294.47 98.31H298.47M294.47 99.01H298.47M296.78 98.51V99.21M294.78 98.51H298.78M294.78 99.21H298.78M297.08 98.72V99.42M295.08 98.72H299.08M295.08 99.42H299.08M297.39 98.93V99.63M295.39 98.93H299.39M295.39 99.63H299.39M297.69 99.14V99.84M295.69 99.14H299.69M295.69 99.84H299.69M297.99 99.35V100.05M295.99 99.35H299.99M295.99 100.05H299.99M298.29 99.56V100.26M296.29 99.56H300.29M296.29 100.26H300.29M298.58 99.77V100.47M296.58 99.77H300.58M296.58 100.47H300.58M298.88 99.98V100.68M296.88 99.98H300.88M296.88 100.68H300.88M299.17 100.19V100.89M297.17 100.19H301.17M297.17 100.89H301.17M299.46 100.40V101.10M297.46 100.40H301.46M297.46 101.10H301.46M299.75 100.62V101.32M297.75 100.62H301.75M297.75 101.32H301.75M300.04 100.83V101.53M298.04 100.83H302.04M298.04 101.53H302.04M300.33 101.04V101.74M298.33 101.04H302.33M298.33 101.74H302.33M300.61 101.26V101.96M298.61 101.26H302.61M298.61 101.96H302.61M300.89 101.48V102.18M298.89 101.48H302.89M298.89 102.18H302.89M301.18 101.70V102.40M299.18 101.70H303.18M299.18 102.40H303.18M301.46 101.92V102.62M299.46 101.92H303.46M299.46 102.62H303.46M301.74 102.15V102.85M299.74 102.15H303.74M299.74 102.85H303.74M302.01 102.38V103.08M300.01 102.38H304.01M300.01 103.08H304.01M302.29 102.61V103.31M300.29 102.61H304.29M300.29 103.31H304.29M302.56 102.84V103.54M300.56 102.84H304.56M300.56 103.54H304.56M302.84 103.07V103.77M300.84 103.07H304.84M300.84 103.77H304.84M303.11 103.31V104.01M301.11 103.31H305.11M301.11 104.01H305.11M303.38 103.55V104.25M301.38 103.55H305.38M301.38 104.25H305.38M303.65 103.79V104.49M301.65 103.79H305.65M301.65 104.49H305.65M303.92 104.04V104.74M301.92 104.04H305.92M301.92 104.74H305.92M304.18 104.29V104.99M302.18 104.29H306.18M302.18 104.99H306.18M304.45 104.54V105.24M302.45 104.54H306.45M302.45 105.24H306.45M304.71 104.79V105.49M302.71 104.79H306.71M302.71 105.49H306.71M304.98 105.05V105.75M302.98 105.05H306.98M302.98 105.75H306.98M305.24 105.30V106.00M303.24 105.30H307.24M303.24 106.00H307.24M305.50 105.56V106.26M303.50 105.56H307.50M303.50 106.26H307.50M305.76 105.83V106.53M303.76 105.83H307.76M303.76 106.53H307.76M306.01 106.09V106.79M304.01 106.09H308.01M304.01 106.79H308.01M306.27 106.36V107.06M304.27 106.36H308.27M304.27 107.06H308.27M306.52 106.63V107.33M304.52 106.63H308.52M304.52 107.33H308.52M306.78 106.91V107.61M304.78 106.91H308.78M304.78 107.61H308.78M307.03 107.18V107.88M305.03 107.18H309.03M305.03 107.88H309.03M307.28 107.47V108.17M305.28 107.47H309.28M305.28 108.17H309.28M307.53 107.75V108.45M305.53 107.75H309.53M305.53 108.45H309.53M307.78 108.04V108.74M305.78 108.04H309.78M305.78 108.74H309.78M308.03 108.34V109.04M306.03 108.34H310.03M306.03 109.04H310.03M308.28 108.64V109.34M306.28 108.64H310.28M306.28 109.34H310.28M308.52 108.95V109.65M306.52 108.95H310.52M306.52 109.65H310.52M308.77 109.26V109.96M306.77 109.26H310.77M306.77 109.96H310.77M309.01 109.57V110.27M307.01 109.57H311.01M307.01 110.27H311.01M309.25 109.89V110.59M307.25 109.89H311.25M307.25 110.59H311.25M309.49 110.21V110.91M307.49 110.21H311.49M307.49 110.91H311.49M309.73 110.53V111.23M307.73 110.53H311.73M307.73 111.23H311.73M309.97 110.86V111.56M307.97 110.86H311.97M307.97 111.56H311.97M310.21 111.18V111.88M308.21 111.18H312.21M308.21 111.88H312.21M310.45 111.52V112.22M308.45 111.52H312.45M308.45 112.22H312.45M310.68 111.85V112.55M308.68 111.85H312.68M308.68 112.55H312.68M310.92 112.19V112.89M308.92 112.19H312.92M308.92 112.89H312.92M311.15 112.52V113.22M309.15 112.52H313.15M309.15 113.22H313.15M311.38 112.86V113.56M309.38 112.86H313.38M309.38 113.56H313.38M311.61 113.20V113.90M309.61 113.20H313.61M309.61 113.90H313.61M311.85 113.54V114.24M309.85 113.54H313.85M309.85 114.24H313.85M312.08 113.89V114.59M310.08 113.89H314.08M310.08 114.59H314.08M312.30 114.23V114.93M310.30 114.23H314.30M310.30 114.93H314.30M312.53 114.57V115.27M310.53 114.57H314.53M310.53 115.27H314.53M312.76 114.92V115.62M310.76 114.92H314.76M310.76 115.62H314.76M312.98 115.26V115.96M310.98 115.26H314.98M310.98 115.96H314.98M313.21 115.61V116.31M311.21 115.61H315.21M311.21 116.31H315.21M313.43 115.95V116.65M311.43 115.95H315.43M311.43 116.65H315.43M313.66 116.30V117.00M311.66 116.30H315.66M311.66 117.00H315.66M313.88 116.64V117.34M311.88 116.64H315.88M311.88 117.34H315.88M314.10 116.99V117.69M312.10 116.99H316.10M312.10 117.69H316.10M314.32 117.33V118.03M312.32 117.33H316.32M312.32 118.03H316.32M314.54 117.67V118.37M312.54 117.67H316.54M312.54 118.37H316.54M314.76 118.01V118.71M312.76 118.01H316.76M312.76 118.71H316.76M314.97 118.35V119.05M312.97 118.35H316.97M312.97 119.05H316.97M315.19 118.69V119.39M313.19 118.69H317.19M313.19 119.39H317.19M315.41 119.03V119.73M313.41 119.03H317.41M313.41 119.73H317.41M315.62 119.37V120.07M313.62 119.37H317.62M313.62 120.07H317.62M315.84 119.70V120.40M313.84 119.70H317.84M313.84 120.40H317.84M316.05 120.04V120.74M314.05 120.04H318.05M314.05 120.74H318.05M316.26 120.37V121.07M314.26 120.37H318.26M314.26 121.07H318.26M316.47 120.70V121.40M314.47 120.70H318.47M314.47 121.40H318.47M316.68 121.02V121.72M314.68 121.02H318.68M314.68 121.72H318.68M316.89 121.35V122.05M314.89 121.35H318.89M314.89 122.05H318.89M317.10 121.67V122.37M315.10 121.67H319.10M315.10 122.37H319.10M317.31 122.00V122.70M315.31 122.00H319.31M315.31 122.70H319.31M317.52 122.32V123.02M315.52 122.32H319.52M315.52 123.02H319.52M317.72 122.65V123.35M315.72 122.65H319.72M315.72 123.35H319.72M317.93 122.97V123.67M315.93 122.97H319.93M315.93 123.67H319.93M318.13 123.30V124.00M316.13 123.30H320.13M316.13 124.00H320.13M318.34 123.63V124.33M316.34 123.63H320.34M316.34 124.33H320.34M318.54 123.96V124.66M316.54 123.96H320.54M316.54 124.66H320.54M318.74 124.29V124.99M316.74 124.29H320.74M316.74 124.99H320.74M318.95 124.63V125.33M316.95 124.63H320.95M316.95 125.33H320.95" fill="none" stroke="#ff00ff" stroke-width="0.4" stroke-opacity="0.8"/>
<path d="M323.39 134.04V134.57M321.19 134.04H325.59M321.19 134.57H325.59M323.57 134.96V135.48M321.37 134.96H325.77M321.37 135.48H325.77M323.76 136.05V136.61M321.56 136.05H325.96M321.56 136.61H325.96M323.94 136.17V136.73M321.74 136.17H326.14M321.74 136.73H326.14M324.12 136.18V136.75M321.92 136.18H326.32M321.92 136.75H326.32M324.30 135.62V136.19M322.10 135.62H326.50M322.10 136.19H326.50M324.49 137.08V137.68M322.29 137.08H326.69M322.29 137.68H326.69M324.67 137.87V138.49M322.47 137.87H326.87M322.47 138.49H326.87M324.85 137.79V138.41M322.65 137.79H327.05M322.65 138.41H327.05M325.03 139.54V140.18M322.83 139.54H327.23M322.83 140.18H327.23M325.21 140.21V140.89M323.01 140.21H327.41M323.01 140.89H327.41M325.39 138.85V139.52M323.19 138.85H327.59M323.19 139.52H327.59M325.56 140.75V141.45M323.36 140.75H327.76M323.36 141.45H327.76M325.74 141.38V142.08M323.54 141.38H327.94M323.54 142.08H327.94M325.92 141.99V142.73M323.72 141.99H328.12M323.72 142.73H328.12M326.09 143.18V143.97M323.89 143.18H328.29M323.89 143.97H328.29M326.27 142.53V143.30M324.07 142.53H328.47M324.07 143.30H328.47M326.45 142.31V143.09M324.25 142.31H328.65M324.25 143.09H328.65M326.62 143.47V144.28M324.42 143.47H328.82M324.42 144.28H328.82M326.79 144.64V145.47M324.59 144.64H328.99M324.59 145.47H328.99M326.97 144.08V144.94M324.77 144.08H329.17M324.77 144.94H329.17M327.14 146.32V147.21M324.94 146.32H329.34M324.94 147.21H329.34M327.31 147.21V148.16M325.11 147.21H329.51M325.11 148.16H329.51M327.48 146.57V147.49M325.28 146.57H329.68M325.28 147.49H329.68M327.66 146.40V147.34M325.46 146.40H329.86M325.46 147.34H329.86M327.83 148.27V149.26M325.63 148.27H330.03M325.63 149.26H330.03M328.00 149.13V150.15M325.80 149.13H330.20M325.80 150.15H330.20M328.17 147.56V148.57M325.97 147.56H330.37M325.97 148.57H330.37M328.34 149.80V150.86M326.14 149.80H330.54M326.14 150.86H330.54M328.50 149.03V150.11M326.30 149.03H330.70M326.30 150.11H330.70M328.67 150.40V151.56M326.47 150.40H330.87M326.47 151.56H330.87M328.84 150.97V152.14M326.64 150.97H331.04M326.64 152.14H331.04M329.01 150.45V151.57M326.81 150.45H331.21M326.81 151.57H331.21M329.17 152.15V153.36M326.97 152.15H331.37M326.97 153.36H331.37M329.34 152.54V153.75M327.14 152.54H331.54M327.14 153.75H331.54M329.50 154.07V155.39M327.30 154.07H331.70M327.30 155.39H331.70M329.67 154.48V155.81M327.47 154.48H331.87M327.47 155.81H331.87M329.83 154.10V155.50M327.63 154.10H332.03M327.63 155.50H332.03M330.00 153.69V155.03M327.80 153.69H332.20M327.80 155.03H332.20M330.16 155.63V157.09M327.96 155.63H332.36M327.96 157.09H332.36M330.32 155.84V157.35M328.12 155.84H332.52M328.12 157.35H332.52M330.49 156.08V157.59M328.29 156.08H332.69M328.29 157.59H332.69M330.65 155.35V156.78M328.45 155.35H332.85M328.45 156.78H332.85M330.81 158.02V159.60M328.61 158.02H333.01M328.61 159.60H333.01M330.97 158.88V160.52M328.77 158.88H333.17M328.77 160.52H333.17M331.13 157.44V159.01M328.93 157.44H333.33M328.93 159.01H333.33M331.29 160.80V162.62M329.09 160.80H333.49M329.09 162.62H333.49M331.45 158.96V160.73M329.25 158.96H333.65M329.25 160.73H333.65M331.61 160.76V162.69M329.41 160.76H333.81M329.41 162.69H333.81M331.77 162.03V163.97M329.57 162.03H333.97M329.57 163.97H333.97M331.92 162.19V164.18M329.72 162.19H334.12M329.72 164.18H334.12M332.08 163.03V165.20M329.88 163.03H334.28M329.88 165.20H334.28M332.24 163.32V165.44M330.04 163.32H334.44M330.04 165.44H334.44M332.40 163.69V165.90M330.20 163.69H334.60M330.20 165.90H334.60M332.55 164.27V166.48M330.35 164.27H334.75M330.35 166.48H334.75M332.71 164.42V166.69M330.51 164.42H334.91M330.51 166.69H334.91M332.86 166.90V169.43M330.66 166.90H335.06M330.66 169.43H335.06M333.02 165.85V168.34M330.82 165.85H335.22M330.82 168.34H335.22M333.17 166.29V168.87M330.97 166.29H335.37M330.97 168.87H335.37M333.33 167.73V170.46M331.13 167.73H335.53M331.13 170.46H335.53M333.48 168.75V171.57M331.28 168.75H335.68M331.28 171.57H335.68M333.63 168.15V170.77M331.43 168.15H335.83M331.43 170.77H335.83M333.79 170.36V173.35M331.59 170.36H335.99M331.59 173.35H335.99M333.94 171.21V174.33M331.74 171.21H336.14M331.74 174.33H336.14M334.09 167.80V170.58M331.89 167.80H336.29M331.89 170.58H336.29M334.24 169.28V172.21M332.04 169.28H336.44M332.04 172.21H336.44M334.39 171.67V174.90M332.19 171.67H336.59M332.19 174.90H336.59M334.54 172.66V176.14M332.34 172.66H336.74M332.34 176.14H336.74M334.69 174.97V178.70M332.49 174.97H336.89M332.49 178.70H336.89M334.84 177.25V181.31M332.64 177.25H337.04M332.64 181.31H337.04M334.99 173.29V176.86M332.79 173.29H337.19M332.79 176.86H337.19M335.14 176.83V180.90M332.94 176.83H337.34M332.94 180.90H337.34M335.29 179.04V183.66M333.09 179.04H337.49M333.09 183.66H337.49M335.43 178.16V182.67M333.23 178.16H337.63M333.23 182.67H337.63M335.58 177.60V181.92M333.38 177.60H337.78M333.38 181.92H337.78M335.73 179.99V185.45M333.53 179.99H337.93M333.53 185.45H337.93M335.88 179.73V184.85M333.68 179.73H338.08M333.68 184.85H338.08M336.02 178.32V182.63M333.82 178.32H338.22M333.82 182.63H338.22M336.17 179.91V184.63M333.97 179.91H338.37M333.97 184.63H338.37M336.31 183.84V189.94M334.11 183.84H338.51M334.11 189.94H338.51M336.46 179.47V184.75M334.26 179.47H338.66M334.26 184.75H338.66M336.60 188.21V195.68M334.40 188.21H338.80M334.40 195.68H338.80M336.75 184.97V192.44M334.55 184.97H338.95M334.55 192.44H338.95M336.89 186.16V193.21M334.69 186.16H339.09M334.69 193.21H339.09M337.04 180.34V185.63M334.84 180.34H339.24M334.84 185.63H339.24M337.18 190.30V198.93M334.98 190.30H339.38M334.98 198.93H339.38M337.32 183.20V189.88M335.12 183.20H339.52M335.12 189.88H339.52M337.46 193.75V204.32M335.26 193.75H339.66M335.26 204.32H339.66M337.61 189.19V198.64M335.41 189.19H339.81M335.41 198.64H339.81M337.75 189.05V197.04M335.55 189.05H339.95M335.55 197.04H339.95M337.89 192.85V203.42M335.69 192.85H340.09M335.69 203.42H340.09M338.73 188.72V198.18M336.53 188.72H340.93M336.53 198.18H340.93M338.87 192.91V203.48M336.67 192.91H341.07M336.67 203.48H341.07M339.28 189.57V199.02M337.08 189.57H341.48M337.08 199.02H341.48" fill="none" stroke="#ff00ff" stroke-width="0.35" stroke-opacity="0.75"/>
<path d="M338.03 196.97V209.18M335.83 196.97H340.23M335.83 209.18H340.23M338.17 198.84V213.79M335.97 198.84H340.37M335.97 213.79H340.37M338.31 198.07V213.02M336.11 198.07H340.51M336.11 213.02H340.51M338.45 196.52V208.73M336.25 196.52H340.65M336.25 208.73H340.65M338.59 199.06V214.01M336.39 199.06H340.79M336.39 214.01H340.79M339.00 193.74V205.94M336.80 193.74H341.20M336.80 205.94H341.20M339.14 195.09V207.30M336.94 195.09H341.34M336.94 207.30H341.34M339.42 198.73V213.67M337.22 198.73H341.62M337.22 213.67H341.62M339.55 200.13V215.08M337.35 200.13H341.75M337.35 215.08H341.75M339.69 196.68V211.63M337.49 196.68H341.89M337.49 211.63H341.89M339.83 202.33V223.47M337.63 202.33H342.03M337.63 223.47H342.03M339.96 199.24V214.19M337.76 199.24H342.16M337.76 214.19H342.16M340.10 197.15V212.10M337.90 197.15H342.30M337.90 212.10H342.30M340.23 196.90V211.85M338.03 196.90H342.43M338.03 211.85H342.43M340.37 202.33V223.47M338.17 202.33H342.57M338.17 223.47H342.57M340.64 202.33V223.47M338.44 202.33H342.84M338.44 223.47H342.84M340.77 202.33V223.47M338.57 202.33H342.97M338.57 223.47H342.97M340.90 202.33V223.47M338.70 202.33H343.10M338.70 223.47H343.10M341.04 202.33V223.47M338.84 202.33H343.24M338.84 223.47H343.24M341.30 202.33V223.47M339.10 202.33H343.50M339.10 223.47H343.50M341.43 202.33V223.47M339.23 202.33H343.63M339.23 223.47H343.63M341.70 202.33V223.47M339.50 202.33H343.90M339.50 223.47H343.90M341.83 202.33V223.47M339.63 202.33H344.03M339.63 223.47H344.03M342.35 202.33V223.47M340.15 202.33H344.55M340.15 223.47H344.55M342.61 202.33V223.47M340.41 202.33H344.81M340.41 223.47H344.81M342.74 202.33V223.47M340.54 202.33H344.94M340.54 223.47H344.94M342.87 202.33V223.47M340.67 202.33H345.07M340.67 223.47H345.07M343.25 202.33V223.47M341.05 202.33H345.45M341.05 223.47H345.45M343.50 202.33V223.47M341.30 202.33H345.70M341.30 223.47H345.70M343.76 202.33V223.47M341.56 202.33H345.96M341.56 223.47H345.96M343.88 202.33V223.47M341.68 202.33H346.08M341.68 223.47H346.08M344.01 202.33V223.47M341.81 202.33H346.21M341.81 223.47H346.21M344.26 202.33V223.47M342.06 202.33H346.46M342.06 223.47H346.46M344.51 202.33V223.47M342.31 202.33H346.71M342.31 223.47H346.71M344.63 202.33V223.47M342.43 202.33H346.83M342.43 223.47H346.83M344.76 202.33V223.47M342.56 202.33H346.96M342.56 223.47H346.96M345.13 202.33V223.47M342.93 202.33H347.33M342.93 223.47H347.33M345.37 202.33V223.47M343.17 202.33H347.57M343.17 223.47H347.57M345.74 202.33V223.47M343.54 202.33H347.94M343.54 223.47H347.94M345.86 202.33V223.47M343.66 202.33H348.06M343.66 223.47H348.06M346.22 202.33V223.47M344.02 202.33H348.42M344.02 223.47H348.42M346.35 202.33V223.47M344.15 202.33H348.55M344.15 223.47H348.55" fill="none" stroke="#ff00ff" stroke-width="0.3" stroke-opacity="0.09"/>
<path d="M337 223.45H346.9" stroke="#ff00ff" stroke-width="0.45" stroke-opacity="0.5" fill="none"/>
<rect x="60.4" y="15.3" width="319.00" height="213.20" fill="none" stroke="#222" stroke-width="0.8"/>
<path d="M60.40 228.5v-3.5M60.40 15.3v3.5M113.57 228.5v-3.5M113.57 15.3v3.5M166.73 228.5v-3.5M166.73 15.3v3.5M219.90 228.5v-3.5M219.90 15.3v3.5M273.07 228.5v-3.5M273.07 15.3v3.5M326.23 228.5v-3.5M326.23 15.3v3.5M379.40 228.5v-3.5M379.40 15.3v3.5M60.4 27.65h3.5M379.4 27.65h-3.5M60.4 80.50h3.5M379.4 80.50h-3.5M60.4 133.35h3.5M379.4 133.35h-3.5M60.4 186.20h3.5M379.4 186.20h-3.5" stroke="#222" stroke-width="0.8" fill="none"/>
<g font-family="Liberation Sans, sans-serif" font-size="12" fill="#111">
<text transform="translate(60.40,245.7) scale(1.10,1)" text-anchor="middle">-5</text>
<text transform="translate(113.57,245.7) scale(1.10,1)" text-anchor="middle">-4</text>
<text transform="translate(166.73,245.7) scale(1.10,1)" text-anchor="middle">-3</text>
<text transform="translate(219.90,245.7) scale(1.10,1)" text-anchor="middle">-2</text>
<text transform="translate(273.07,245.7) scale(1.10,1)" text-anchor="middle">-1</text>
<text transform="translate(326.23,245.7) scale(1.10,1)" text-anchor="middle">0</text>
<text transform="translate(379.40,245.7) scale(1.10,1)" text-anchor="middle">1</text>
<text transform="translate(52.3,32.15) scale(1.10,1)" text-anchor="end">5</text>
<text transform="translate(52.3,85.00) scale(1.10,1)" text-anchor="end">0</text>
<text transform="translate(52.3,137.85) scale(1.10,1)" text-anchor="end">-5</text>
<text transform="translate(52.3,190.70) scale(1.10,1)" text-anchor="end">-10</text>
<text transform="translate(18.0,121.5) rotate(-90) scale(1.08,1)" text-anchor="middle">log(SV(l))</text>
<text transform="translate(188.7,266.0) scale(1.06,1)" font-size="12.8">log(l/N</text>
<text transform="translate(227.9,260.0) scale(0.98,1)" font-size="10">1/</text>
<text transform="translate(237.2,260.0) scale(0.95,1)" font-size="10.5">&#948;</text>
<text transform="translate(242.8,262.3) scale(1.0,1)" font-size="7.8">h</text>
<text transform="translate(247.0,266.0) scale(1.06,1)" font-size="12.8">)</text>
</g>
<g font-family="Liberation Sans, sans-serif" font-size="12.3">
<text transform="translate(319,29.10) scale(1.055,1)" text-anchor="end" fill="#ff0000">1058</text>
<path d="M327 24.8H363.3" stroke="#ff0000" stroke-width="0.55" fill="none" stroke-opacity="1"/>
<path d="M327 23.2v3.2M363.3 23.2v3.2" stroke="#ff0000" stroke-width="0.55" fill="none" stroke-opacity="1"/>
<path d="M343.25 24.80H346.55M344.90 23.15V26.45" stroke="#ff0000" stroke-width="0.55" fill="none"/>
<text transform="translate(319,41.50) scale(1.055,1)" text-anchor="end" fill="#00ff00">2048</text>
<path d="M327 37.2H363.3" stroke="#00ff00" stroke-width="0.55" fill="none" stroke-dasharray="2.6 1.0" stroke-opacity="1"/>
<path d="M327 36.400000000000006v1.6M363.3 36.400000000000006v1.6" stroke="#00ff00" stroke-width="0.55" fill="none" stroke-opacity="1"/>
<path d="M343.25 35.55L346.55 38.85M343.25 38.85L346.55 35.55" stroke="#00ff00" stroke-width="0.55" fill="none"/>
<text transform="translate(319,54.45) scale(1.055,1)" text-anchor="end" fill="#0000ff">4232</text>
<path d="M327 50.15H363.3" stroke="#0000ff" stroke-width="0.55" fill="none" stroke-dasharray="1.4 1.1" stroke-opacity="1"/>
<path d="M327 48.75v2.8M363.3 48.75v2.8" stroke="#0000ff" stroke-width="0.55" fill="none" stroke-opacity="1"/>
<path d="M343.25 50.15H346.55M344.90 48.50V51.80M343.25 48.50L346.55 51.80M343.25 51.80L346.55 48.50" stroke="#0000ff" stroke-width="0.55" fill="none"/>
<text transform="translate(319,67.20) scale(1.055,1)" text-anchor="end" fill="#ff00ff">8192</text>
<path d="M327 62.9H363.3" stroke="#ff00ff" stroke-width="0.55" fill="none" stroke-dasharray="1.0 0.8" stroke-opacity="0.7"/>
<path d="M327 61.3v3.2M363.3 61.3v3.2" stroke="#ff00ff" stroke-width="0.55" fill="none" stroke-opacity="0.6"/>
<path d="M343.25 61.25H346.55V64.55H343.25Z" stroke="#ff00ff" stroke-width="0.55" fill="none"/>
</g>
</svg>
</body></html>
